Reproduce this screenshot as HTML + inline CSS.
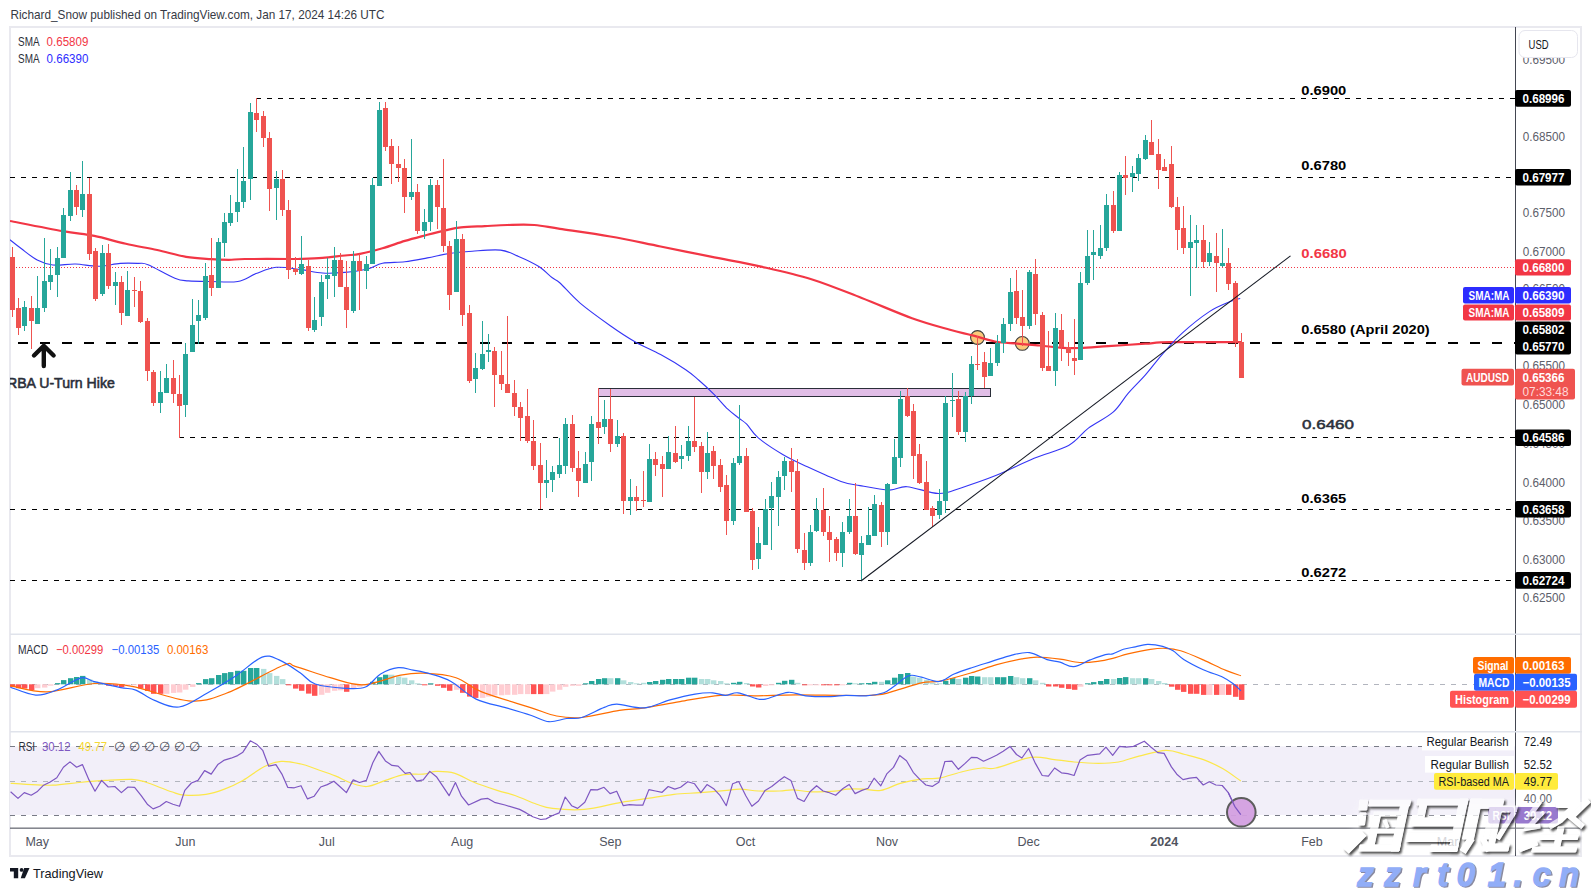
<!DOCTYPE html><html><head><meta charset="utf-8"><style>html,body{margin:0;padding:0;background:#fff;overflow:hidden}svg{display:block}text{font-family:"Liberation Sans", sans-serif}</style></head><body>
<svg width="1591" height="891" viewBox="0 0 1591 891">
<rect width="1591" height="891" fill="#ffffff"/>
<text x="10.5" y="18.8" font-size="13" fill="#363a45" font-weight="normal" text-anchor="start" textLength="374" lengthAdjust="spacingAndGlyphs" >Richard_Snow published on TradingView.com, Jan 17, 2024 14:26 UTC</text>
<rect x="10" y="27" width="1571" height="829" fill="none" stroke="#e9e9ef" stroke-width="2" shape-rendering="crispEdges"/>
<defs><clipPath id="main"><rect x="10" y="27" width="1505" height="607"/></clipPath><clipPath id="macdc"><rect x="10" y="635" width="1505" height="96"/></clipPath><clipPath id="rsic"><rect x="10" y="732" width="1505" height="96"/></clipPath></defs>
<g clip-path="url(#main)">
<line x1="256" y1="98.5" x2="1515" y2="98.5" stroke="#000" stroke-width="1" stroke-dasharray="5 6" shape-rendering="crispEdges"/>
<line x1="10" y1="177.5" x2="1515" y2="177.5" stroke="#000" stroke-width="1" stroke-dasharray="5 6" shape-rendering="crispEdges"/>
<line x1="10" y1="267.5" x2="1515" y2="267.5" stroke="#f23645" stroke-width="1" stroke-dasharray="1 2" shape-rendering="crispEdges"/>
<line x1="18" y1="342.5" x2="1515" y2="342.5" stroke="#000" stroke-width="2" stroke-dasharray="10 12" shape-rendering="crispEdges"/>
<line x1="179" y1="437.5" x2="1515" y2="437.5" stroke="#000" stroke-width="1" stroke-dasharray="5 6" shape-rendering="crispEdges"/>
<line x1="10" y1="509.5" x2="1515" y2="509.5" stroke="#000" stroke-width="1" stroke-dasharray="5 6" shape-rendering="crispEdges"/>
<line x1="10" y1="580.5" x2="1515" y2="580.5" stroke="#000" stroke-width="1" stroke-dasharray="5 6" shape-rendering="crispEdges"/>
<rect x="598.5" y="388.5" width="392" height="8" fill="#e1bee7" stroke="#2a2e39" stroke-width="1"/>
<circle cx="977.5" cy="337.5" r="6.9" fill="#fbc97a" stroke="#3d3d3d" stroke-width="1.1"/>
<circle cx="1022.3" cy="343.4" r="6.9" fill="#fbc97a" stroke="#3d3d3d" stroke-width="1.1"/>
<path d="M10.0,221.0 C18.8,222.7 48.9,228.7 62.9,231.2 C77.0,233.7 83.8,233.8 94.3,235.9 C104.8,238.0 115.3,241.5 125.8,243.8 C136.3,246.2 147.1,247.8 157.2,250.0 C167.2,252.2 177.2,255.3 186.1,256.8 C195.0,258.3 203.7,258.6 210.8,259.1 C217.9,259.6 223.1,259.8 228.8,259.8 C234.5,259.8 234.7,259.1 244.9,259.0 C255.1,258.9 280.6,259.0 289.8,259.0 C299.0,259.0 294.6,259.1 300.0,258.9 C305.4,258.7 315.0,258.4 322.5,257.8 C330.0,257.2 338.6,256.1 344.9,255.5 C351.1,254.8 353.7,255.1 360.0,253.9 C366.3,252.7 375.0,250.5 382.5,248.3 C390.0,246.1 397.4,243.2 404.9,240.9 C412.4,238.7 420.7,236.6 427.4,234.8 C434.1,233.0 439.7,231.5 445.3,230.3 C450.9,229.1 454.4,228.1 461.0,227.4 C467.6,226.7 477.2,226.5 484.9,226.1 C492.6,225.7 499.2,225.2 507.4,225.0 C515.6,224.8 525.5,224.3 534.3,225.0 C543.1,225.7 547.3,227.0 560.0,228.9 C572.7,230.8 593.5,233.6 610.3,236.5 C627.1,239.4 643.9,243.2 660.6,246.5 C677.4,249.8 694.0,253.3 710.8,256.6 C727.5,260.0 744.3,262.8 761.1,266.6 C777.9,270.4 794.6,274.0 811.4,279.2 C828.2,284.4 844.9,291.5 861.7,298.0 C878.5,304.5 897.3,312.9 912.0,318.2 C926.7,323.5 939.9,326.9 950.0,329.8 C960.1,332.7 965.0,333.4 972.5,335.4 C980.0,337.3 987.4,340.1 994.9,341.5 C1002.4,342.9 1009.9,343.0 1017.4,343.7 C1024.9,344.4 1032.3,344.8 1039.8,345.5 C1047.3,346.2 1055.6,347.4 1062.3,347.8 C1069.0,348.2 1072.4,348.3 1080.0,348.0 C1087.6,347.7 1097.2,346.9 1108.1,346.2 C1119.0,345.5 1134.9,344.4 1145.2,343.7 C1155.5,343.0 1153.9,342.4 1169.9,342.2 C1185.9,341.9 1229.2,342.2 1241.0,342.2" fill="none" stroke="#f23645" stroke-width="2.2" stroke-linejoin="round"/>
<path d="M10.0,239.8 C11.9,241.3 17.0,245.4 21.5,248.8 C26.0,252.2 32.0,257.3 37.2,260.0 C42.4,262.7 46.5,264.3 52.9,265.0 C59.3,265.7 67.9,263.8 75.4,264.0 C82.9,264.2 90.3,266.4 97.8,266.3 C105.3,266.2 113.6,263.9 120.3,263.4 C127.0,262.9 133.4,263.2 138.0,263.4 C142.6,263.6 141.8,262.2 148.0,264.7 C154.2,267.2 168.2,275.5 174.9,278.2 C181.6,280.9 182.4,280.3 188.4,280.9 C194.4,281.4 202.6,281.4 210.8,281.5 C219.0,281.6 230.2,282.8 237.8,281.5 C245.4,280.2 249.7,276.0 256.1,273.6 C262.5,271.2 268.8,268.0 276.3,267.3 C283.8,266.6 293.3,268.7 301.0,269.6 C308.7,270.6 315.2,272.5 322.5,273.0 C329.8,273.5 337.4,273.1 344.9,272.4 C352.4,271.7 361.1,270.5 367.4,269.0 C373.7,267.5 376.2,264.5 382.5,263.3 C388.8,262.1 397.4,262.7 404.9,261.8 C412.4,260.9 419.9,259.3 427.4,257.9 C434.9,256.5 442.3,254.5 449.8,253.4 C457.3,252.3 463.8,251.8 472.3,251.2 C480.8,250.6 492.9,249.2 500.6,250.1 C508.3,251.0 512.2,253.7 518.6,256.4 C525.0,259.1 533.2,262.9 538.8,266.5 C544.4,270.1 548.8,275.1 552.3,277.8 C555.8,280.6 555.4,278.8 560.0,283.0 C564.6,287.2 571.7,296.0 580.1,303.1 C588.5,310.2 601.1,319.2 610.3,325.7 C619.5,332.2 627.0,337.2 635.4,342.0 C643.8,346.8 652.2,350.0 660.6,354.6 C669.0,359.2 679.4,365.5 685.7,369.7 C692.0,373.9 693.8,375.9 698.6,380.0 C703.4,384.1 709.4,389.7 714.3,394.6 C719.2,399.5 723.7,405.3 727.8,409.2 C731.9,413.1 735.9,415.7 739.0,418.2 C742.1,420.7 743.5,420.9 746.7,424.2 C749.9,427.4 752.0,432.6 758.0,437.7 C764.0,442.8 774.5,449.6 782.7,454.5 C790.9,459.4 797.7,462.3 807.4,466.8 C817.1,471.3 832.2,478.3 841.0,481.4 C849.8,484.5 852.0,484.2 860.0,485.6 C868.0,487.1 881.4,489.9 889.2,490.1 C897.1,490.3 898.9,486.1 907.1,486.7 C915.3,487.3 929.6,493.3 938.6,493.5 C947.6,493.7 951.3,491.0 961.0,487.9 C970.7,484.8 984.8,480.0 997.0,475.1 C1009.2,470.2 1022.2,463.2 1034.1,458.3 C1046.0,453.4 1059.5,450.4 1068.6,445.4 C1077.6,440.4 1081.0,433.7 1088.4,428.1 C1095.8,422.6 1106.5,417.9 1113.1,412.1 C1119.7,406.4 1122.6,399.8 1127.9,393.6 C1133.2,387.4 1139.4,381.7 1145.2,375.1 C1151.0,368.5 1156.3,361.1 1162.5,354.1 C1168.7,347.1 1174.4,340.2 1182.2,333.1 C1190.0,326.0 1201.2,317.0 1209.4,311.6 C1217.6,306.2 1226.5,303.2 1231.6,301.0 C1236.7,298.8 1238.8,298.9 1240.2,298.5" fill="none" stroke="#3535f5" stroke-width="1.1" stroke-linejoin="round"/>
<rect x="12" y="247" width="1" height="70" fill="#ef5350"/>
<rect x="10" y="257" width="5" height="53" fill="#ef5350"/>
<rect x="18" y="298" width="1" height="37" fill="#ef5350"/>
<rect x="16" y="308" width="5" height="20" fill="#ef5350"/>
<rect x="24" y="301" width="1" height="30" fill="#26a69a"/>
<rect x="22" y="307" width="5" height="19" fill="#26a69a"/>
<rect x="31" y="296" width="1" height="53" fill="#ef5350"/>
<rect x="29" y="308" width="5" height="13" fill="#ef5350"/>
<rect x="37" y="276" width="1" height="48" fill="#26a69a"/>
<rect x="35" y="308" width="5" height="16" fill="#26a69a"/>
<rect x="44" y="238" width="1" height="74" fill="#26a69a"/>
<rect x="42" y="281" width="5" height="27" fill="#26a69a"/>
<rect x="50" y="249" width="1" height="41" fill="#26a69a"/>
<rect x="48" y="275" width="5" height="7" fill="#26a69a"/>
<rect x="57" y="247" width="1" height="50" fill="#26a69a"/>
<rect x="55" y="258" width="5" height="17" fill="#26a69a"/>
<rect x="63" y="208" width="1" height="50" fill="#26a69a"/>
<rect x="61" y="215" width="5" height="43" fill="#26a69a"/>
<rect x="70" y="172" width="1" height="49" fill="#26a69a"/>
<rect x="68" y="190" width="5" height="26" fill="#26a69a"/>
<rect x="76" y="185" width="1" height="30" fill="#ef5350"/>
<rect x="74" y="190" width="5" height="17" fill="#ef5350"/>
<rect x="82" y="161" width="1" height="56" fill="#26a69a"/>
<rect x="80" y="194" width="5" height="16" fill="#26a69a"/>
<rect x="89" y="178" width="1" height="82" fill="#ef5350"/>
<rect x="87" y="194" width="5" height="60" fill="#ef5350"/>
<rect x="95" y="248" width="1" height="53" fill="#ef5350"/>
<rect x="93" y="251" width="5" height="48" fill="#ef5350"/>
<rect x="102" y="245" width="1" height="51" fill="#26a69a"/>
<rect x="100" y="253" width="5" height="41" fill="#26a69a"/>
<rect x="108" y="244" width="1" height="45" fill="#ef5350"/>
<rect x="106" y="253" width="5" height="33" fill="#ef5350"/>
<rect x="115" y="272" width="1" height="33" fill="#26a69a"/>
<rect x="113" y="282" width="5" height="4" fill="#26a69a"/>
<rect x="121" y="276" width="1" height="49" fill="#ef5350"/>
<rect x="119" y="282" width="5" height="31" fill="#ef5350"/>
<rect x="127" y="271" width="1" height="45" fill="#26a69a"/>
<rect x="125" y="290" width="5" height="26" fill="#26a69a"/>
<rect x="134" y="277" width="1" height="30" fill="#ef5350"/>
<rect x="132" y="290" width="5" height="1" fill="#ef5350"/>
<rect x="140" y="281" width="1" height="42" fill="#ef5350"/>
<rect x="138" y="291" width="5" height="31" fill="#ef5350"/>
<rect x="147" y="318" width="1" height="63" fill="#ef5350"/>
<rect x="145" y="321" width="5" height="50" fill="#ef5350"/>
<rect x="153" y="370" width="1" height="36" fill="#ef5350"/>
<rect x="151" y="372" width="5" height="31" fill="#ef5350"/>
<rect x="160" y="371" width="1" height="42" fill="#26a69a"/>
<rect x="158" y="392" width="5" height="11" fill="#26a69a"/>
<rect x="166" y="364" width="1" height="29" fill="#26a69a"/>
<rect x="164" y="378" width="5" height="15" fill="#26a69a"/>
<rect x="173" y="360" width="1" height="43" fill="#ef5350"/>
<rect x="171" y="378" width="5" height="16" fill="#ef5350"/>
<rect x="179" y="375" width="1" height="63" fill="#ef5350"/>
<rect x="177" y="394" width="5" height="12" fill="#ef5350"/>
<rect x="185" y="343" width="1" height="74" fill="#26a69a"/>
<rect x="183" y="354" width="5" height="51" fill="#26a69a"/>
<rect x="192" y="299" width="1" height="53" fill="#26a69a"/>
<rect x="190" y="325" width="5" height="27" fill="#26a69a"/>
<rect x="198" y="300" width="1" height="44" fill="#26a69a"/>
<rect x="196" y="315" width="5" height="6" fill="#26a69a"/>
<rect x="205" y="263" width="1" height="57" fill="#26a69a"/>
<rect x="203" y="276" width="5" height="42" fill="#26a69a"/>
<rect x="211" y="238" width="1" height="58" fill="#ef5350"/>
<rect x="209" y="275" width="5" height="13" fill="#ef5350"/>
<rect x="218" y="238" width="1" height="50" fill="#26a69a"/>
<rect x="216" y="242" width="5" height="46" fill="#26a69a"/>
<rect x="224" y="213" width="1" height="44" fill="#26a69a"/>
<rect x="222" y="222" width="5" height="21" fill="#26a69a"/>
<rect x="230" y="195" width="1" height="31" fill="#26a69a"/>
<rect x="228" y="213" width="5" height="10" fill="#26a69a"/>
<rect x="237" y="169" width="1" height="53" fill="#26a69a"/>
<rect x="235" y="202" width="5" height="10" fill="#26a69a"/>
<rect x="243" y="147" width="1" height="61" fill="#26a69a"/>
<rect x="241" y="181" width="5" height="21" fill="#26a69a"/>
<rect x="250" y="103" width="1" height="97" fill="#26a69a"/>
<rect x="248" y="112" width="5" height="67" fill="#26a69a"/>
<rect x="256" y="98" width="1" height="34" fill="#ef5350"/>
<rect x="254" y="113" width="5" height="7" fill="#ef5350"/>
<rect x="263" y="111" width="1" height="36" fill="#ef5350"/>
<rect x="261" y="116" width="5" height="22" fill="#ef5350"/>
<rect x="269" y="132" width="1" height="79" fill="#ef5350"/>
<rect x="267" y="138" width="5" height="51" fill="#ef5350"/>
<rect x="276" y="171" width="1" height="49" fill="#26a69a"/>
<rect x="274" y="179" width="5" height="9" fill="#26a69a"/>
<rect x="282" y="170" width="1" height="46" fill="#ef5350"/>
<rect x="280" y="179" width="5" height="31" fill="#ef5350"/>
<rect x="288" y="200" width="1" height="79" fill="#ef5350"/>
<rect x="286" y="210" width="5" height="60" fill="#ef5350"/>
<rect x="295" y="257" width="1" height="18" fill="#ef5350"/>
<rect x="293" y="269" width="5" height="3" fill="#ef5350"/>
<rect x="301" y="236" width="1" height="39" fill="#26a69a"/>
<rect x="299" y="264" width="5" height="10" fill="#26a69a"/>
<rect x="308" y="260" width="1" height="71" fill="#ef5350"/>
<rect x="306" y="266" width="5" height="62" fill="#ef5350"/>
<rect x="314" y="297" width="1" height="35" fill="#26a69a"/>
<rect x="312" y="320" width="5" height="10" fill="#26a69a"/>
<rect x="321" y="275" width="1" height="51" fill="#26a69a"/>
<rect x="319" y="282" width="5" height="35" fill="#26a69a"/>
<rect x="327" y="258" width="1" height="41" fill="#26a69a"/>
<rect x="325" y="275" width="5" height="4" fill="#26a69a"/>
<rect x="334" y="247" width="1" height="50" fill="#26a69a"/>
<rect x="332" y="260" width="5" height="16" fill="#26a69a"/>
<rect x="340" y="253" width="1" height="34" fill="#ef5350"/>
<rect x="338" y="260" width="5" height="27" fill="#ef5350"/>
<rect x="346" y="261" width="1" height="67" fill="#ef5350"/>
<rect x="344" y="287" width="5" height="23" fill="#ef5350"/>
<rect x="353" y="251" width="1" height="62" fill="#26a69a"/>
<rect x="351" y="261" width="5" height="50" fill="#26a69a"/>
<rect x="359" y="254" width="1" height="56" fill="#ef5350"/>
<rect x="357" y="261" width="5" height="10" fill="#ef5350"/>
<rect x="366" y="256" width="1" height="33" fill="#26a69a"/>
<rect x="364" y="264" width="5" height="7" fill="#26a69a"/>
<rect x="372" y="178" width="1" height="86" fill="#26a69a"/>
<rect x="370" y="185" width="5" height="79" fill="#26a69a"/>
<rect x="379" y="102" width="1" height="84" fill="#26a69a"/>
<rect x="377" y="110" width="5" height="76" fill="#26a69a"/>
<rect x="385" y="102" width="1" height="49" fill="#ef5350"/>
<rect x="383" y="108" width="5" height="39" fill="#ef5350"/>
<rect x="391" y="139" width="1" height="45" fill="#ef5350"/>
<rect x="389" y="146" width="5" height="18" fill="#ef5350"/>
<rect x="398" y="146" width="1" height="36" fill="#ef5350"/>
<rect x="396" y="164" width="5" height="4" fill="#ef5350"/>
<rect x="404" y="159" width="1" height="54" fill="#ef5350"/>
<rect x="402" y="168" width="5" height="29" fill="#ef5350"/>
<rect x="411" y="139" width="1" height="61" fill="#26a69a"/>
<rect x="409" y="192" width="5" height="5" fill="#26a69a"/>
<rect x="417" y="184" width="1" height="50" fill="#ef5350"/>
<rect x="415" y="192" width="5" height="39" fill="#ef5350"/>
<rect x="424" y="209" width="1" height="30" fill="#26a69a"/>
<rect x="422" y="222" width="5" height="9" fill="#26a69a"/>
<rect x="430" y="179" width="1" height="52" fill="#26a69a"/>
<rect x="428" y="185" width="5" height="37" fill="#26a69a"/>
<rect x="437" y="180" width="1" height="49" fill="#ef5350"/>
<rect x="435" y="185" width="5" height="22" fill="#ef5350"/>
<rect x="443" y="159" width="1" height="93" fill="#ef5350"/>
<rect x="441" y="208" width="5" height="38" fill="#ef5350"/>
<rect x="449" y="241" width="1" height="69" fill="#ef5350"/>
<rect x="447" y="246" width="5" height="49" fill="#ef5350"/>
<rect x="456" y="221" width="1" height="71" fill="#26a69a"/>
<rect x="454" y="239" width="5" height="53" fill="#26a69a"/>
<rect x="462" y="234" width="1" height="92" fill="#ef5350"/>
<rect x="460" y="239" width="5" height="76" fill="#ef5350"/>
<rect x="469" y="305" width="1" height="78" fill="#ef5350"/>
<rect x="467" y="313" width="5" height="68" fill="#ef5350"/>
<rect x="475" y="353" width="1" height="40" fill="#26a69a"/>
<rect x="473" y="368" width="5" height="11" fill="#26a69a"/>
<rect x="482" y="321" width="1" height="49" fill="#26a69a"/>
<rect x="480" y="354" width="5" height="15" fill="#26a69a"/>
<rect x="488" y="334" width="1" height="28" fill="#26a69a"/>
<rect x="486" y="350" width="5" height="2" fill="#26a69a"/>
<rect x="494" y="347" width="1" height="60" fill="#ef5350"/>
<rect x="492" y="351" width="5" height="24" fill="#ef5350"/>
<rect x="501" y="351" width="1" height="39" fill="#ef5350"/>
<rect x="499" y="375" width="5" height="9" fill="#ef5350"/>
<rect x="507" y="316" width="1" height="77" fill="#ef5350"/>
<rect x="505" y="384" width="5" height="9" fill="#ef5350"/>
<rect x="514" y="380" width="1" height="36" fill="#ef5350"/>
<rect x="512" y="393" width="5" height="14" fill="#ef5350"/>
<rect x="520" y="402" width="1" height="39" fill="#ef5350"/>
<rect x="518" y="407" width="5" height="11" fill="#ef5350"/>
<rect x="527" y="389" width="1" height="54" fill="#ef5350"/>
<rect x="525" y="416" width="5" height="25" fill="#ef5350"/>
<rect x="533" y="420" width="1" height="50" fill="#ef5350"/>
<rect x="531" y="441" width="5" height="25" fill="#ef5350"/>
<rect x="540" y="443" width="1" height="66" fill="#ef5350"/>
<rect x="538" y="465" width="5" height="18" fill="#ef5350"/>
<rect x="546" y="460" width="1" height="38" fill="#26a69a"/>
<rect x="544" y="480" width="5" height="3" fill="#26a69a"/>
<rect x="552" y="466" width="1" height="26" fill="#26a69a"/>
<rect x="550" y="472" width="5" height="8" fill="#26a69a"/>
<rect x="559" y="438" width="1" height="40" fill="#26a69a"/>
<rect x="557" y="465" width="5" height="9" fill="#26a69a"/>
<rect x="565" y="418" width="1" height="56" fill="#26a69a"/>
<rect x="563" y="424" width="5" height="42" fill="#26a69a"/>
<rect x="572" y="415" width="1" height="57" fill="#ef5350"/>
<rect x="570" y="424" width="5" height="44" fill="#ef5350"/>
<rect x="578" y="451" width="1" height="46" fill="#ef5350"/>
<rect x="576" y="468" width="5" height="13" fill="#ef5350"/>
<rect x="585" y="452" width="1" height="31" fill="#26a69a"/>
<rect x="583" y="464" width="5" height="19" fill="#26a69a"/>
<rect x="591" y="416" width="1" height="65" fill="#26a69a"/>
<rect x="589" y="424" width="5" height="38" fill="#26a69a"/>
<rect x="598" y="388" width="1" height="56" fill="#ef5350"/>
<rect x="596" y="422" width="5" height="6" fill="#ef5350"/>
<rect x="604" y="400" width="1" height="34" fill="#26a69a"/>
<rect x="602" y="419" width="5" height="8" fill="#26a69a"/>
<rect x="610" y="389" width="1" height="63" fill="#ef5350"/>
<rect x="608" y="419" width="5" height="25" fill="#ef5350"/>
<rect x="617" y="420" width="1" height="27" fill="#26a69a"/>
<rect x="615" y="436" width="5" height="8" fill="#26a69a"/>
<rect x="623" y="433" width="1" height="81" fill="#ef5350"/>
<rect x="621" y="436" width="5" height="65" fill="#ef5350"/>
<rect x="630" y="479" width="1" height="36" fill="#26a69a"/>
<rect x="628" y="497" width="5" height="4" fill="#26a69a"/>
<rect x="636" y="486" width="1" height="25" fill="#ef5350"/>
<rect x="634" y="497" width="5" height="4" fill="#ef5350"/>
<rect x="643" y="471" width="1" height="36" fill="#ef5350"/>
<rect x="641" y="500" width="5" height="1" fill="#ef5350"/>
<rect x="649" y="444" width="1" height="58" fill="#26a69a"/>
<rect x="647" y="459" width="5" height="43" fill="#26a69a"/>
<rect x="655" y="452" width="1" height="24" fill="#ef5350"/>
<rect x="653" y="459" width="5" height="6" fill="#ef5350"/>
<rect x="662" y="456" width="1" height="41" fill="#ef5350"/>
<rect x="660" y="464" width="5" height="5" fill="#ef5350"/>
<rect x="668" y="436" width="1" height="33" fill="#26a69a"/>
<rect x="666" y="452" width="5" height="17" fill="#26a69a"/>
<rect x="675" y="426" width="1" height="37" fill="#ef5350"/>
<rect x="673" y="453" width="5" height="9" fill="#ef5350"/>
<rect x="681" y="445" width="1" height="24" fill="#26a69a"/>
<rect x="679" y="456" width="5" height="3" fill="#26a69a"/>
<rect x="688" y="426" width="1" height="35" fill="#26a69a"/>
<rect x="686" y="441" width="5" height="15" fill="#26a69a"/>
<rect x="694" y="397" width="1" height="55" fill="#ef5350"/>
<rect x="692" y="441" width="5" height="6" fill="#ef5350"/>
<rect x="701" y="442" width="1" height="51" fill="#ef5350"/>
<rect x="699" y="446" width="5" height="26" fill="#ef5350"/>
<rect x="707" y="432" width="1" height="47" fill="#26a69a"/>
<rect x="705" y="453" width="5" height="19" fill="#26a69a"/>
<rect x="713" y="446" width="1" height="33" fill="#ef5350"/>
<rect x="711" y="451" width="5" height="15" fill="#ef5350"/>
<rect x="720" y="459" width="1" height="33" fill="#ef5350"/>
<rect x="718" y="465" width="5" height="22" fill="#ef5350"/>
<rect x="726" y="475" width="1" height="60" fill="#ef5350"/>
<rect x="724" y="485" width="5" height="36" fill="#ef5350"/>
<rect x="733" y="458" width="1" height="67" fill="#26a69a"/>
<rect x="731" y="463" width="5" height="58" fill="#26a69a"/>
<rect x="739" y="405" width="1" height="60" fill="#26a69a"/>
<rect x="737" y="456" width="5" height="7" fill="#26a69a"/>
<rect x="746" y="448" width="1" height="64" fill="#ef5350"/>
<rect x="744" y="456" width="5" height="56" fill="#ef5350"/>
<rect x="752" y="508" width="1" height="62" fill="#ef5350"/>
<rect x="750" y="511" width="5" height="49" fill="#ef5350"/>
<rect x="758" y="527" width="1" height="42" fill="#26a69a"/>
<rect x="756" y="543" width="5" height="16" fill="#26a69a"/>
<rect x="765" y="499" width="1" height="46" fill="#26a69a"/>
<rect x="763" y="509" width="5" height="36" fill="#26a69a"/>
<rect x="771" y="482" width="1" height="68" fill="#26a69a"/>
<rect x="769" y="496" width="5" height="12" fill="#26a69a"/>
<rect x="778" y="471" width="1" height="55" fill="#26a69a"/>
<rect x="776" y="477" width="5" height="20" fill="#26a69a"/>
<rect x="784" y="457" width="1" height="33" fill="#26a69a"/>
<rect x="782" y="461" width="5" height="15" fill="#26a69a"/>
<rect x="791" y="448" width="1" height="44" fill="#ef5350"/>
<rect x="789" y="461" width="5" height="11" fill="#ef5350"/>
<rect x="797" y="459" width="1" height="94" fill="#ef5350"/>
<rect x="795" y="471" width="5" height="78" fill="#ef5350"/>
<rect x="804" y="533" width="1" height="37" fill="#ef5350"/>
<rect x="802" y="550" width="5" height="13" fill="#ef5350"/>
<rect x="810" y="525" width="1" height="41" fill="#26a69a"/>
<rect x="808" y="532" width="5" height="31" fill="#26a69a"/>
<rect x="816" y="498" width="1" height="34" fill="#26a69a"/>
<rect x="814" y="510" width="5" height="21" fill="#26a69a"/>
<rect x="823" y="488" width="1" height="48" fill="#ef5350"/>
<rect x="821" y="510" width="5" height="22" fill="#ef5350"/>
<rect x="829" y="516" width="1" height="46" fill="#ef5350"/>
<rect x="827" y="532" width="5" height="8" fill="#ef5350"/>
<rect x="836" y="537" width="1" height="24" fill="#ef5350"/>
<rect x="834" y="539" width="5" height="14" fill="#ef5350"/>
<rect x="842" y="522" width="1" height="45" fill="#26a69a"/>
<rect x="840" y="532" width="5" height="21" fill="#26a69a"/>
<rect x="849" y="499" width="1" height="35" fill="#26a69a"/>
<rect x="847" y="516" width="5" height="16" fill="#26a69a"/>
<rect x="855" y="483" width="1" height="72" fill="#ef5350"/>
<rect x="853" y="516" width="5" height="38" fill="#ef5350"/>
<rect x="861" y="536" width="1" height="45" fill="#26a69a"/>
<rect x="859" y="543" width="5" height="12" fill="#26a69a"/>
<rect x="868" y="507" width="1" height="38" fill="#26a69a"/>
<rect x="866" y="535" width="5" height="10" fill="#26a69a"/>
<rect x="874" y="495" width="1" height="41" fill="#26a69a"/>
<rect x="872" y="504" width="5" height="32" fill="#26a69a"/>
<rect x="881" y="502" width="1" height="45" fill="#ef5350"/>
<rect x="879" y="505" width="5" height="27" fill="#ef5350"/>
<rect x="887" y="483" width="1" height="62" fill="#26a69a"/>
<rect x="885" y="484" width="5" height="48" fill="#26a69a"/>
<rect x="894" y="439" width="1" height="45" fill="#26a69a"/>
<rect x="892" y="457" width="5" height="27" fill="#26a69a"/>
<rect x="900" y="391" width="1" height="76" fill="#26a69a"/>
<rect x="898" y="399" width="5" height="59" fill="#26a69a"/>
<rect x="907" y="388" width="1" height="29" fill="#ef5350"/>
<rect x="905" y="396" width="5" height="20" fill="#ef5350"/>
<rect x="913" y="404" width="1" height="75" fill="#ef5350"/>
<rect x="911" y="411" width="5" height="45" fill="#ef5350"/>
<rect x="919" y="444" width="1" height="40" fill="#ef5350"/>
<rect x="917" y="454" width="5" height="29" fill="#ef5350"/>
<rect x="926" y="461" width="1" height="49" fill="#ef5350"/>
<rect x="924" y="482" width="5" height="28" fill="#ef5350"/>
<rect x="932" y="506" width="1" height="21" fill="#ef5350"/>
<rect x="930" y="508" width="5" height="8" fill="#ef5350"/>
<rect x="939" y="489" width="1" height="30" fill="#26a69a"/>
<rect x="937" y="501" width="5" height="14" fill="#26a69a"/>
<rect x="945" y="396" width="1" height="117" fill="#26a69a"/>
<rect x="943" y="403" width="5" height="98" fill="#26a69a"/>
<rect x="952" y="373" width="1" height="44" fill="#26a69a"/>
<rect x="950" y="400" width="5" height="1" fill="#26a69a"/>
<rect x="958" y="391" width="1" height="44" fill="#ef5350"/>
<rect x="956" y="399" width="5" height="33" fill="#ef5350"/>
<rect x="965" y="392" width="1" height="50" fill="#26a69a"/>
<rect x="963" y="396" width="5" height="36" fill="#26a69a"/>
<rect x="971" y="356" width="1" height="48" fill="#26a69a"/>
<rect x="969" y="364" width="5" height="32" fill="#26a69a"/>
<rect x="977" y="336" width="1" height="34" fill="#ef5350"/>
<rect x="975" y="364" width="5" height="1" fill="#ef5350"/>
<rect x="984" y="352" width="1" height="36" fill="#ef5350"/>
<rect x="982" y="362" width="5" height="15" fill="#ef5350"/>
<rect x="990" y="348" width="1" height="28" fill="#26a69a"/>
<rect x="988" y="363" width="5" height="13" fill="#26a69a"/>
<rect x="997" y="335" width="1" height="31" fill="#26a69a"/>
<rect x="995" y="343" width="5" height="20" fill="#26a69a"/>
<rect x="1003" y="318" width="1" height="35" fill="#26a69a"/>
<rect x="1001" y="324" width="5" height="19" fill="#26a69a"/>
<rect x="1010" y="278" width="1" height="53" fill="#26a69a"/>
<rect x="1008" y="292" width="5" height="32" fill="#26a69a"/>
<rect x="1016" y="270" width="1" height="54" fill="#ef5350"/>
<rect x="1014" y="291" width="5" height="27" fill="#ef5350"/>
<rect x="1022" y="290" width="1" height="56" fill="#ef5350"/>
<rect x="1020" y="317" width="5" height="9" fill="#ef5350"/>
<rect x="1029" y="270" width="1" height="59" fill="#26a69a"/>
<rect x="1027" y="272" width="5" height="54" fill="#26a69a"/>
<rect x="1035" y="259" width="1" height="66" fill="#ef5350"/>
<rect x="1033" y="274" width="5" height="40" fill="#ef5350"/>
<rect x="1042" y="312" width="1" height="59" fill="#ef5350"/>
<rect x="1040" y="315" width="5" height="53" fill="#ef5350"/>
<rect x="1048" y="331" width="1" height="40" fill="#ef5350"/>
<rect x="1046" y="366" width="5" height="5" fill="#ef5350"/>
<rect x="1055" y="313" width="1" height="73" fill="#26a69a"/>
<rect x="1053" y="328" width="5" height="43" fill="#26a69a"/>
<rect x="1061" y="314" width="1" height="47" fill="#ef5350"/>
<rect x="1059" y="330" width="5" height="17" fill="#ef5350"/>
<rect x="1068" y="342" width="1" height="24" fill="#ef5350"/>
<rect x="1066" y="347" width="5" height="6" fill="#ef5350"/>
<rect x="1074" y="319" width="1" height="56" fill="#ef5350"/>
<rect x="1072" y="358" width="5" height="3" fill="#ef5350"/>
<rect x="1080" y="272" width="1" height="88" fill="#26a69a"/>
<rect x="1078" y="283" width="5" height="77" fill="#26a69a"/>
<rect x="1087" y="230" width="1" height="55" fill="#26a69a"/>
<rect x="1085" y="256" width="5" height="27" fill="#26a69a"/>
<rect x="1093" y="230" width="1" height="50" fill="#26a69a"/>
<rect x="1091" y="252" width="5" height="3" fill="#26a69a"/>
<rect x="1100" y="225" width="1" height="34" fill="#26a69a"/>
<rect x="1098" y="248" width="5" height="8" fill="#26a69a"/>
<rect x="1106" y="194" width="1" height="57" fill="#26a69a"/>
<rect x="1104" y="205" width="5" height="43" fill="#26a69a"/>
<rect x="1113" y="191" width="1" height="42" fill="#ef5350"/>
<rect x="1111" y="205" width="5" height="26" fill="#ef5350"/>
<rect x="1119" y="172" width="1" height="59" fill="#26a69a"/>
<rect x="1117" y="175" width="5" height="56" fill="#26a69a"/>
<rect x="1125" y="156" width="1" height="39" fill="#ef5350"/>
<rect x="1123" y="175" width="5" height="3" fill="#ef5350"/>
<rect x="1132" y="166" width="1" height="26" fill="#26a69a"/>
<rect x="1130" y="173" width="5" height="4" fill="#26a69a"/>
<rect x="1138" y="154" width="1" height="27" fill="#26a69a"/>
<rect x="1136" y="158" width="5" height="16" fill="#26a69a"/>
<rect x="1145" y="135" width="1" height="25" fill="#26a69a"/>
<rect x="1143" y="140" width="5" height="19" fill="#26a69a"/>
<rect x="1151" y="120" width="1" height="35" fill="#ef5350"/>
<rect x="1149" y="142" width="5" height="13" fill="#ef5350"/>
<rect x="1158" y="139" width="1" height="50" fill="#ef5350"/>
<rect x="1156" y="154" width="5" height="16" fill="#ef5350"/>
<rect x="1164" y="159" width="1" height="12" fill="#ef5350"/>
<rect x="1162" y="167" width="5" height="4" fill="#ef5350"/>
<rect x="1171" y="146" width="1" height="62" fill="#ef5350"/>
<rect x="1169" y="164" width="5" height="43" fill="#ef5350"/>
<rect x="1177" y="197" width="1" height="53" fill="#ef5350"/>
<rect x="1175" y="207" width="5" height="23" fill="#ef5350"/>
<rect x="1183" y="206" width="1" height="48" fill="#ef5350"/>
<rect x="1181" y="228" width="5" height="20" fill="#ef5350"/>
<rect x="1190" y="215" width="1" height="81" fill="#26a69a"/>
<rect x="1188" y="242" width="5" height="6" fill="#26a69a"/>
<rect x="1196" y="225" width="1" height="43" fill="#26a69a"/>
<rect x="1194" y="240" width="5" height="3" fill="#26a69a"/>
<rect x="1203" y="225" width="1" height="43" fill="#ef5350"/>
<rect x="1201" y="240" width="5" height="22" fill="#ef5350"/>
<rect x="1209" y="242" width="1" height="24" fill="#26a69a"/>
<rect x="1207" y="253" width="5" height="9" fill="#26a69a"/>
<rect x="1216" y="233" width="1" height="59" fill="#ef5350"/>
<rect x="1214" y="256" width="5" height="7" fill="#ef5350"/>
<rect x="1222" y="229" width="1" height="38" fill="#26a69a"/>
<rect x="1220" y="263" width="5" height="3" fill="#26a69a"/>
<rect x="1228" y="248" width="1" height="42" fill="#ef5350"/>
<rect x="1226" y="263" width="5" height="21" fill="#ef5350"/>
<rect x="1235" y="281" width="1" height="66" fill="#ef5350"/>
<rect x="1233" y="283" width="5" height="59" fill="#ef5350"/>
<rect x="1241" y="333" width="1" height="45" fill="#ef5350"/>
<rect x="1239" y="342" width="5" height="36" fill="#ef5350"/>
</g>
<line x1="861" y1="581" x2="1290.5" y2="255.8" stroke="#131722" stroke-width="1.05"/>
<path d="M43.8 366 V347 M34 355.5 L43.8 345.8 L53.6 355.5" fill="none" stroke="#111" stroke-width="4.4" stroke-linecap="round" stroke-linejoin="miter"/>
<svg x="10" y="360" width="200" height="40" overflow="hidden">
<text x="-3" y="27.9" font-size="14" fill="#2a2e39" font-weight="normal" text-anchor="start" textLength="107.8" lengthAdjust="spacingAndGlyphs" stroke="#2a2e39" stroke-width="0.55">RBA U-Turn Hike</text>
</svg>
<text x="1301.3" y="94.6" font-size="13" fill="#000" font-weight="bold" text-anchor="start" textLength="45" lengthAdjust="spacingAndGlyphs" >0.6900</text>
<text x="1301.3" y="170" font-size="13" fill="#000" font-weight="bold" text-anchor="start" textLength="45" lengthAdjust="spacingAndGlyphs" >0.6780</text>
<text x="1301.3" y="258.4" font-size="13" fill="#f23645" font-weight="bold" text-anchor="start" textLength="45.4" lengthAdjust="spacingAndGlyphs" >0.6680</text>
<text x="1301.3" y="333.8" font-size="13" fill="#000" font-weight="bold" text-anchor="start" textLength="128.4" lengthAdjust="spacingAndGlyphs" >0.6580 (April 2020)</text>
<text x="1302" y="428.5" font-size="13.5" fill="#2a2e39" font-weight="normal" text-anchor="start" textLength="52" lengthAdjust="spacingAndGlyphs" stroke="#2a2e39" stroke-width="0.5">0.6460</text>
<text x="1301.3" y="502.6" font-size="13" fill="#000" font-weight="bold" text-anchor="start" textLength="45" lengthAdjust="spacingAndGlyphs" >0.6365</text>
<text x="1301.3" y="576.7" font-size="13" fill="#000" font-weight="bold" text-anchor="start" textLength="45" lengthAdjust="spacingAndGlyphs" >0.6272</text>
<text x="18.1" y="45.8" font-size="12.5" fill="#2a2e39" font-weight="normal" text-anchor="start" textLength="21.5" lengthAdjust="spacingAndGlyphs" >SMA</text>
<text x="46.6" y="45.8" font-size="12.5" fill="#f23645" font-weight="normal" text-anchor="start" textLength="41.7" lengthAdjust="spacingAndGlyphs" >0.65809</text>
<text x="18.1" y="62.8" font-size="12.5" fill="#2a2e39" font-weight="normal" text-anchor="start" textLength="21.5" lengthAdjust="spacingAndGlyphs" >SMA</text>
<text x="46.6" y="62.8" font-size="12.5" fill="#2d2dff" font-weight="normal" text-anchor="start" textLength="41.7" lengthAdjust="spacingAndGlyphs" >0.66390</text>
<line x1="1515.5" y1="27" x2="1515.5" y2="856" stroke="#434651" stroke-width="1" shape-rendering="crispEdges"/>
<text x="1522.7" y="63.9" font-size="12.5" fill="#5d606b" font-weight="normal" text-anchor="start" textLength="42.3" lengthAdjust="spacingAndGlyphs" >0.69500</text>
<text x="1522.7" y="140.9" font-size="12.5" fill="#5d606b" font-weight="normal" text-anchor="start" textLength="42.3" lengthAdjust="spacingAndGlyphs" >0.68500</text>
<text x="1522.7" y="217.20000000000002" font-size="12.5" fill="#5d606b" font-weight="normal" text-anchor="start" textLength="42.3" lengthAdjust="spacingAndGlyphs" >0.67500</text>
<text x="1522.7" y="255.8" font-size="12.5" fill="#5d606b" font-weight="normal" text-anchor="start" textLength="42.3" lengthAdjust="spacingAndGlyphs" >0.67000</text>
<text x="1522.7" y="292.9" font-size="12.5" fill="#5d606b" font-weight="normal" text-anchor="start" textLength="42.3" lengthAdjust="spacingAndGlyphs" >0.66500</text>
<text x="1522.7" y="370.2" font-size="12.5" fill="#5d606b" font-weight="normal" text-anchor="start" textLength="42.3" lengthAdjust="spacingAndGlyphs" >0.65500</text>
<text x="1522.7" y="409.4" font-size="12.5" fill="#5d606b" font-weight="normal" text-anchor="start" textLength="42.3" lengthAdjust="spacingAndGlyphs" >0.65000</text>
<text x="1522.7" y="448.0" font-size="12.5" fill="#5d606b" font-weight="normal" text-anchor="start" textLength="42.3" lengthAdjust="spacingAndGlyphs" >0.64500</text>
<text x="1522.7" y="487.29999999999995" font-size="12.5" fill="#5d606b" font-weight="normal" text-anchor="start" textLength="42.3" lengthAdjust="spacingAndGlyphs" >0.64000</text>
<text x="1522.7" y="524.6" font-size="12.5" fill="#5d606b" font-weight="normal" text-anchor="start" textLength="42.3" lengthAdjust="spacingAndGlyphs" >0.63500</text>
<text x="1522.7" y="563.8" font-size="12.5" fill="#5d606b" font-weight="normal" text-anchor="start" textLength="42.3" lengthAdjust="spacingAndGlyphs" >0.63000</text>
<text x="1522.7" y="601.6" font-size="12.5" fill="#5d606b" font-weight="normal" text-anchor="start" textLength="42.3" lengthAdjust="spacingAndGlyphs" >0.62500</text>
<rect x="1519" y="30.5" width="58.5" height="27" rx="6" fill="#fff" stroke="#e6e6ee" stroke-width="1"/>
<text x="1528.6" y="48.9" font-size="12.5" fill="#131722" font-weight="normal" text-anchor="start" textLength="20" lengthAdjust="spacingAndGlyphs" >USD</text>
<rect x="1515" y="90.10000000000001" width="56" height="16.6" rx="2" fill="#000"/>
<text x="1522.5" y="102.9" font-size="12.5" fill="#fff" font-weight="bold" text-anchor="start" textLength="42" lengthAdjust="spacingAndGlyphs" >0.68996</text>
<rect x="1515" y="169.0" width="56" height="16.6" rx="2" fill="#000"/>
<text x="1522.5" y="181.8" font-size="12.5" fill="#fff" font-weight="bold" text-anchor="start" textLength="42" lengthAdjust="spacingAndGlyphs" >0.67977</text>
<rect x="1515" y="429.5" width="56" height="16.6" rx="2" fill="#000"/>
<text x="1522.5" y="442.3" font-size="12.5" fill="#fff" font-weight="bold" text-anchor="start" textLength="42" lengthAdjust="spacingAndGlyphs" >0.64586</text>
<rect x="1515" y="501.0" width="56" height="16.6" rx="2" fill="#000"/>
<text x="1522.5" y="513.8" font-size="12.5" fill="#fff" font-weight="bold" text-anchor="start" textLength="42" lengthAdjust="spacingAndGlyphs" >0.63658</text>
<rect x="1515" y="572.1" width="56" height="16.6" rx="2" fill="#000"/>
<text x="1522.5" y="584.9" font-size="12.5" fill="#fff" font-weight="bold" text-anchor="start" textLength="42" lengthAdjust="spacingAndGlyphs" >0.62724</text>
<rect x="1515" y="259.3" width="56" height="16.1" rx="2" fill="#f23645"/>
<text x="1522.5" y="271.85" font-size="12.5" fill="#fff" font-weight="bold" text-anchor="start" textLength="42" lengthAdjust="spacingAndGlyphs" >0.66800</text>
<rect x="1463" y="287" width="51" height="16.5" rx="2" fill="#2d2dff"/>
<text x="1468.5" y="299.75" font-size="12.5" fill="#fff" font-weight="bold" text-anchor="start" textLength="41" lengthAdjust="spacingAndGlyphs" >SMA:MA</text>
<rect x="1515" y="287" width="56" height="16.5" rx="2" fill="#2d2dff"/>
<text x="1522.5" y="299.75" font-size="12.5" fill="#fff" font-weight="bold" text-anchor="start" textLength="42" lengthAdjust="spacingAndGlyphs" >0.66390</text>
<rect x="1463" y="304.6" width="51" height="16" rx="2" fill="#f23645"/>
<text x="1468.5" y="317.1" font-size="12.5" fill="#fff" font-weight="bold" text-anchor="start" textLength="41" lengthAdjust="spacingAndGlyphs" >SMA:MA</text>
<rect x="1515" y="304.6" width="56" height="16" rx="2" fill="#f23645"/>
<text x="1522.5" y="317.1" font-size="12.5" fill="#fff" font-weight="bold" text-anchor="start" textLength="42" lengthAdjust="spacingAndGlyphs" >0.65809</text>
<rect x="1515" y="321.4" width="56" height="33.2" rx="2" fill="#000"/>
<text x="1522.5" y="334" font-size="12.5" fill="#fff" font-weight="bold" text-anchor="start" textLength="42" lengthAdjust="spacingAndGlyphs" >0.65802</text>
<text x="1522.5" y="350.6" font-size="12.5" fill="#fff" font-weight="bold" text-anchor="start" textLength="42" lengthAdjust="spacingAndGlyphs" >0.65770</text>
<rect x="1461.5" y="368.8" width="52.5" height="16.8" rx="2" fill="#ef5350"/>
<text x="1466" y="381.7" font-size="12.5" fill="#fff" font-weight="bold" text-anchor="start" textLength="43" lengthAdjust="spacingAndGlyphs" >AUDUSD</text>
<rect x="1515" y="368.8" width="60" height="30.7" rx="2" fill="#ef5350"/>
<text x="1522.5" y="381.5" font-size="12.5" fill="#fff" font-weight="bold" text-anchor="start" textLength="42" lengthAdjust="spacingAndGlyphs" >0.65366</text>
<text x="1522.5" y="396" font-size="12.5" fill="#ffd9d9" font-weight="normal" text-anchor="start" textLength="46" lengthAdjust="spacingAndGlyphs" >07:33:48</text>
<rect x="10" y="633.5" width="1572" height="1.5" fill="#e0e3eb"/>
<rect x="10" y="731" width="1572" height="1.5" fill="#e0e3eb"/>
<g clip-path="url(#macdc)">
<line x1="10" y1="684.5" x2="1515" y2="684.5" stroke="#b2b5be" stroke-width="1" stroke-dasharray="5 6" shape-rendering="crispEdges"/>
<rect x="10" y="684.3" width="5.4" height="2.9" fill="#ff5252"/>
<rect x="16" y="684.3" width="5.4" height="3.9" fill="#ff5252"/>
<rect x="22" y="684.3" width="5.4" height="4.2" fill="#ff5252"/>
<rect x="29" y="684.3" width="5.4" height="5.8" fill="#ff5252"/>
<rect x="35" y="684.3" width="5.4" height="3.9" fill="#ffcdd2"/>
<rect x="42" y="684.3" width="5.4" height="3.3" fill="#ffcdd2"/>
<rect x="48" y="684.3" width="5.4" height="1.4" fill="#ffcdd2"/>
<rect x="55" y="683.1" width="5.4" height="1.2" fill="#26a69a"/>
<rect x="61" y="680.1" width="5.4" height="4.2" fill="#26a69a"/>
<rect x="68" y="678.2" width="5.4" height="6.1" fill="#26a69a"/>
<rect x="74" y="677.0" width="5.4" height="7.3" fill="#26a69a"/>
<rect x="80" y="675.9" width="5.4" height="8.4" fill="#26a69a"/>
<rect x="87" y="679.3" width="5.4" height="5.0" fill="#b2dfdb"/>
<rect x="93" y="681.6" width="5.4" height="2.7" fill="#b2dfdb"/>
<rect x="100" y="683.3" width="5.4" height="1.0" fill="#b2dfdb"/>
<rect x="106" y="684.3" width="5.4" height="1.4" fill="#ff5252"/>
<rect x="113" y="684.3" width="5.4" height="1.6" fill="#ff5252"/>
<rect x="119" y="684.3" width="5.4" height="2.9" fill="#ff5252"/>
<rect x="125" y="684.3" width="5.4" height="2.0" fill="#ffcdd2"/>
<rect x="132" y="684.3" width="5.4" height="1.0" fill="#ffcdd2"/>
<rect x="138" y="684.3" width="5.4" height="4.2" fill="#ff5252"/>
<rect x="145" y="684.3" width="5.4" height="6.7" fill="#ff5252"/>
<rect x="151" y="684.3" width="5.4" height="9.5" fill="#ff5252"/>
<rect x="158" y="684.3" width="5.4" height="9.5" fill="#ff5252"/>
<rect x="164" y="684.3" width="5.4" height="9.5" fill="#ffcdd2"/>
<rect x="171" y="684.3" width="5.4" height="8.6" fill="#ffcdd2"/>
<rect x="177" y="684.3" width="5.4" height="8.2" fill="#ffcdd2"/>
<rect x="183" y="684.3" width="5.4" height="5.4" fill="#ffcdd2"/>
<rect x="190" y="684.3" width="5.4" height="2.6" fill="#ffcdd2"/>
<rect x="196" y="683.1" width="5.4" height="1.2" fill="#26a69a"/>
<rect x="203" y="679.1" width="5.4" height="5.2" fill="#26a69a"/>
<rect x="209" y="678.2" width="5.4" height="6.1" fill="#26a69a"/>
<rect x="216" y="675.0" width="5.4" height="9.3" fill="#26a69a"/>
<rect x="222" y="673.1" width="5.4" height="11.2" fill="#26a69a"/>
<rect x="228" y="672.1" width="5.4" height="12.2" fill="#26a69a"/>
<rect x="235" y="670.8" width="5.4" height="13.5" fill="#26a69a"/>
<rect x="241" y="670.8" width="5.4" height="13.5" fill="#26a69a"/>
<rect x="248" y="668.0" width="5.4" height="16.3" fill="#26a69a"/>
<rect x="254" y="668.0" width="5.4" height="16.3" fill="#26a69a"/>
<rect x="261" y="668.9" width="5.4" height="15.4" fill="#b2dfdb"/>
<rect x="267" y="673.1" width="5.4" height="11.2" fill="#b2dfdb"/>
<rect x="274" y="675.9" width="5.4" height="8.4" fill="#b2dfdb"/>
<rect x="280" y="679.1" width="5.4" height="5.2" fill="#b2dfdb"/>
<rect x="286" y="684.3" width="5.4" height="1.0" fill="#ff5252"/>
<rect x="293" y="684.3" width="5.4" height="4.3" fill="#ff5252"/>
<rect x="299" y="684.3" width="5.4" height="6.5" fill="#ff5252"/>
<rect x="306" y="684.3" width="5.4" height="9.3" fill="#ff5252"/>
<rect x="312" y="684.3" width="5.4" height="11.5" fill="#ff5252"/>
<rect x="319" y="684.3" width="5.4" height="10.5" fill="#ffcdd2"/>
<rect x="325" y="684.3" width="5.4" height="8.5" fill="#ffcdd2"/>
<rect x="332" y="684.3" width="5.4" height="6.5" fill="#ffcdd2"/>
<rect x="338" y="684.3" width="5.4" height="6.0" fill="#ffcdd2"/>
<rect x="344" y="684.3" width="5.4" height="7.5" fill="#ff5252"/>
<rect x="351" y="684.3" width="5.4" height="4.0" fill="#ffcdd2"/>
<rect x="357" y="684.3" width="5.4" height="2.5" fill="#ffcdd2"/>
<rect x="364" y="684.3" width="5.4" height="1.2" fill="#ffcdd2"/>
<rect x="370" y="681.8" width="5.4" height="2.5" fill="#26a69a"/>
<rect x="377" y="677.2" width="5.4" height="7.1" fill="#26a69a"/>
<rect x="383" y="674.7" width="5.4" height="9.6" fill="#26a69a"/>
<rect x="389" y="674.7" width="5.4" height="9.6" fill="#b2dfdb"/>
<rect x="396" y="676.5" width="5.4" height="7.8" fill="#b2dfdb"/>
<rect x="402" y="677.7" width="5.4" height="6.6" fill="#b2dfdb"/>
<rect x="409" y="680.3" width="5.4" height="4.0" fill="#b2dfdb"/>
<rect x="415" y="683.3" width="5.4" height="1.0" fill="#b2dfdb"/>
<rect x="422" y="684.3" width="5.4" height="1.0" fill="#ff5252"/>
<rect x="428" y="683.3" width="5.4" height="1.0" fill="#26a69a"/>
<rect x="435" y="684.3" width="5.4" height="1.5" fill="#ff5252"/>
<rect x="441" y="684.3" width="5.4" height="3.5" fill="#ff5252"/>
<rect x="447" y="684.3" width="5.4" height="6.5" fill="#ff5252"/>
<rect x="454" y="684.3" width="5.4" height="5.5" fill="#ffcdd2"/>
<rect x="460" y="684.3" width="5.4" height="8.5" fill="#ff5252"/>
<rect x="467" y="684.3" width="5.4" height="12.3" fill="#ff5252"/>
<rect x="473" y="684.3" width="5.4" height="13.6" fill="#ff5252"/>
<rect x="480" y="684.3" width="5.4" height="13.6" fill="#ffcdd2"/>
<rect x="486" y="684.3" width="5.4" height="12.3" fill="#ffcdd2"/>
<rect x="492" y="684.3" width="5.4" height="11.0" fill="#ffcdd2"/>
<rect x="499" y="684.3" width="5.4" height="11.0" fill="#ffcdd2"/>
<rect x="505" y="684.3" width="5.4" height="10.5" fill="#ffcdd2"/>
<rect x="512" y="684.3" width="5.4" height="10.5" fill="#ffcdd2"/>
<rect x="518" y="684.3" width="5.4" height="9.8" fill="#ffcdd2"/>
<rect x="525" y="684.3" width="5.4" height="9.8" fill="#ffcdd2"/>
<rect x="531" y="684.3" width="5.4" height="9.8" fill="#ff5252"/>
<rect x="538" y="684.3" width="5.4" height="9.8" fill="#ff5252"/>
<rect x="544" y="684.3" width="5.4" height="9.8" fill="#ffcdd2"/>
<rect x="550" y="684.3" width="5.4" height="7.3" fill="#ffcdd2"/>
<rect x="557" y="684.3" width="5.4" height="5.5" fill="#ffcdd2"/>
<rect x="563" y="684.3" width="5.4" height="2.5" fill="#ffcdd2"/>
<rect x="570" y="684.3" width="5.4" height="1.5" fill="#ffcdd2"/>
<rect x="576" y="684.3" width="5.4" height="1.5" fill="#ffcdd2"/>
<rect x="583" y="683.3" width="5.4" height="1.0" fill="#26a69a"/>
<rect x="589" y="681.0" width="5.4" height="3.3" fill="#26a69a"/>
<rect x="596" y="679.0" width="5.4" height="5.3" fill="#26a69a"/>
<rect x="602" y="678.2" width="5.4" height="6.1" fill="#26a69a"/>
<rect x="608" y="678.2" width="5.4" height="6.1" fill="#b2dfdb"/>
<rect x="615" y="678.2" width="5.4" height="6.1" fill="#26a69a"/>
<rect x="621" y="680.3" width="5.4" height="4.0" fill="#b2dfdb"/>
<rect x="628" y="682.0" width="5.4" height="2.3" fill="#b2dfdb"/>
<rect x="634" y="683.3" width="5.4" height="1.0" fill="#b2dfdb"/>
<rect x="641" y="682.8" width="5.4" height="1.5" fill="#b2dfdb"/>
<rect x="647" y="682.0" width="5.4" height="2.3" fill="#26a69a"/>
<rect x="653" y="681.0" width="5.4" height="3.3" fill="#26a69a"/>
<rect x="660" y="679.8" width="5.4" height="4.5" fill="#26a69a"/>
<rect x="666" y="679.0" width="5.4" height="5.3" fill="#26a69a"/>
<rect x="673" y="679.0" width="5.4" height="5.3" fill="#26a69a"/>
<rect x="679" y="679.0" width="5.4" height="5.3" fill="#26a69a"/>
<rect x="686" y="677.7" width="5.4" height="6.6" fill="#26a69a"/>
<rect x="692" y="677.7" width="5.4" height="6.6" fill="#26a69a"/>
<rect x="699" y="679.0" width="5.4" height="5.3" fill="#b2dfdb"/>
<rect x="705" y="679.0" width="5.4" height="5.3" fill="#b2dfdb"/>
<rect x="711" y="680.3" width="5.4" height="4.0" fill="#b2dfdb"/>
<rect x="718" y="681.0" width="5.4" height="3.3" fill="#b2dfdb"/>
<rect x="724" y="683.3" width="5.4" height="1.0" fill="#b2dfdb"/>
<rect x="731" y="682.8" width="5.4" height="1.5" fill="#26a69a"/>
<rect x="737" y="681.8" width="5.4" height="2.5" fill="#26a69a"/>
<rect x="744" y="683.0" width="5.4" height="1.3" fill="#b2dfdb"/>
<rect x="750" y="684.3" width="5.4" height="2.2" fill="#ff5252"/>
<rect x="756" y="684.3" width="5.4" height="3.2" fill="#ff5252"/>
<rect x="763" y="684.3" width="5.4" height="1.7" fill="#ffcdd2"/>
<rect x="769" y="684.3" width="5.4" height="1.0" fill="#ffcdd2"/>
<rect x="776" y="682.8" width="5.4" height="1.5" fill="#26a69a"/>
<rect x="782" y="680.8" width="5.4" height="3.5" fill="#26a69a"/>
<rect x="789" y="679.8" width="5.4" height="4.5" fill="#26a69a"/>
<rect x="795" y="682.8" width="5.4" height="1.5" fill="#b2dfdb"/>
<rect x="802" y="684.3" width="5.4" height="1.0" fill="#ff5252"/>
<rect x="808" y="684.3" width="5.4" height="1.0" fill="#ffcdd2"/>
<rect x="814" y="684.3" width="5.4" height="1.0" fill="#ffcdd2"/>
<rect x="821" y="684.3" width="5.4" height="1.0" fill="#ff5252"/>
<rect x="827" y="684.3" width="5.4" height="1.0" fill="#ff5252"/>
<rect x="834" y="684.3" width="5.4" height="1.0" fill="#ff5252"/>
<rect x="840" y="684.3" width="5.4" height="1.0" fill="#ffcdd2"/>
<rect x="847" y="682.8" width="5.4" height="1.5" fill="#26a69a"/>
<rect x="853" y="683.3" width="5.4" height="1.0" fill="#b2dfdb"/>
<rect x="859" y="683.3" width="5.4" height="1.0" fill="#26a69a"/>
<rect x="866" y="683.0" width="5.4" height="1.3" fill="#26a69a"/>
<rect x="872" y="681.8" width="5.4" height="2.5" fill="#26a69a"/>
<rect x="879" y="681.8" width="5.4" height="2.5" fill="#b2dfdb"/>
<rect x="885" y="680.3" width="5.4" height="4.0" fill="#26a69a"/>
<rect x="892" y="677.7" width="5.4" height="6.6" fill="#26a69a"/>
<rect x="898" y="674.0" width="5.4" height="10.3" fill="#26a69a"/>
<rect x="905" y="673.0" width="5.4" height="11.3" fill="#26a69a"/>
<rect x="911" y="676.5" width="5.4" height="7.8" fill="#b2dfdb"/>
<rect x="917" y="677.7" width="5.4" height="6.6" fill="#b2dfdb"/>
<rect x="924" y="679.8" width="5.4" height="4.5" fill="#b2dfdb"/>
<rect x="930" y="682.8" width="5.4" height="1.5" fill="#b2dfdb"/>
<rect x="937" y="683.3" width="5.4" height="1.0" fill="#b2dfdb"/>
<rect x="943" y="680.8" width="5.4" height="3.5" fill="#26a69a"/>
<rect x="950" y="678.2" width="5.4" height="6.1" fill="#26a69a"/>
<rect x="956" y="679.0" width="5.4" height="5.3" fill="#b2dfdb"/>
<rect x="963" y="677.7" width="5.4" height="6.6" fill="#26a69a"/>
<rect x="969" y="676.0" width="5.4" height="8.3" fill="#26a69a"/>
<rect x="975" y="676.5" width="5.4" height="7.8" fill="#26a69a"/>
<rect x="982" y="677.2" width="5.4" height="7.1" fill="#b2dfdb"/>
<rect x="988" y="677.2" width="5.4" height="7.1" fill="#b2dfdb"/>
<rect x="995" y="677.2" width="5.4" height="7.1" fill="#26a69a"/>
<rect x="1001" y="677.2" width="5.4" height="7.1" fill="#26a69a"/>
<rect x="1008" y="676.0" width="5.4" height="8.3" fill="#26a69a"/>
<rect x="1014" y="677.2" width="5.4" height="7.1" fill="#b2dfdb"/>
<rect x="1020" y="678.2" width="5.4" height="6.1" fill="#b2dfdb"/>
<rect x="1027" y="678.2" width="5.4" height="6.1" fill="#26a69a"/>
<rect x="1033" y="680.3" width="5.4" height="4.0" fill="#b2dfdb"/>
<rect x="1040" y="682.8" width="5.4" height="1.5" fill="#b2dfdb"/>
<rect x="1046" y="684.3" width="5.4" height="2.2" fill="#ff5252"/>
<rect x="1053" y="684.3" width="5.4" height="2.2" fill="#ff5252"/>
<rect x="1059" y="684.3" width="5.4" height="3.5" fill="#ff5252"/>
<rect x="1066" y="684.3" width="5.4" height="4.6" fill="#ff5252"/>
<rect x="1072" y="684.3" width="5.4" height="5.5" fill="#ff5252"/>
<rect x="1078" y="684.3" width="5.4" height="2.4" fill="#ffcdd2"/>
<rect x="1085" y="683.3" width="5.4" height="1.0" fill="#26a69a"/>
<rect x="1091" y="682.1" width="5.4" height="2.2" fill="#26a69a"/>
<rect x="1098" y="681.0" width="5.4" height="3.3" fill="#26a69a"/>
<rect x="1104" y="679.0" width="5.4" height="5.3" fill="#26a69a"/>
<rect x="1111" y="679.0" width="5.4" height="5.3" fill="#b2dfdb"/>
<rect x="1117" y="678.0" width="5.4" height="6.3" fill="#26a69a"/>
<rect x="1123" y="677.1" width="5.4" height="7.2" fill="#26a69a"/>
<rect x="1130" y="678.2" width="5.4" height="6.1" fill="#b2dfdb"/>
<rect x="1136" y="678.2" width="5.4" height="6.1" fill="#b2dfdb"/>
<rect x="1143" y="678.2" width="5.4" height="6.1" fill="#26a69a"/>
<rect x="1149" y="679.0" width="5.4" height="5.3" fill="#b2dfdb"/>
<rect x="1156" y="681.0" width="5.4" height="3.3" fill="#b2dfdb"/>
<rect x="1162" y="683.0" width="5.4" height="1.3" fill="#b2dfdb"/>
<rect x="1169" y="684.3" width="5.4" height="2.4" fill="#ff5252"/>
<rect x="1175" y="684.3" width="5.4" height="5.5" fill="#ff5252"/>
<rect x="1181" y="684.3" width="5.4" height="7.6" fill="#ff5252"/>
<rect x="1188" y="684.3" width="5.4" height="9.5" fill="#ff5252"/>
<rect x="1194" y="684.3" width="5.4" height="9.5" fill="#ff5252"/>
<rect x="1201" y="684.3" width="5.4" height="10.6" fill="#ff5252"/>
<rect x="1207" y="684.3" width="5.4" height="10.6" fill="#ffcdd2"/>
<rect x="1214" y="684.3" width="5.4" height="10.6" fill="#ff5252"/>
<rect x="1220" y="684.3" width="5.4" height="10.6" fill="#ffcdd2"/>
<rect x="1226" y="684.3" width="5.4" height="10.6" fill="#ff5252"/>
<rect x="1233" y="684.3" width="5.4" height="12.5" fill="#ff5252"/>
<rect x="1239" y="684.3" width="5.4" height="15.6" fill="#ff5252"/>
<path d="M10.4,685.7 C16.5,686.7 33.1,692.3 47.1,691.9 C61.1,691.5 80.1,684.4 94.3,683.5 C108.5,682.6 116.3,683.4 132.0,686.3 C147.7,689.2 172.9,699.6 188.6,700.8 C204.3,702.0 210.6,699.2 226.3,693.3 C242.0,687.4 271.4,670.0 282.9,665.5 C294.4,661.0 287.2,664.4 295.1,666.4 C303.0,668.4 319.0,674.6 330.3,677.7 C341.6,680.8 351.3,685.2 363.0,684.8 C374.7,684.4 390.6,677.1 400.7,675.2 C410.8,673.3 414.1,672.8 423.3,673.2 C432.5,673.6 446.4,674.6 456.0,677.7 C465.6,680.8 468.5,686.6 481.1,691.6 C493.7,696.6 518.8,703.8 531.4,707.9 C544.0,712.0 548.2,714.4 556.6,716.0 C565.0,717.6 571.2,718.4 581.7,717.5 C592.2,716.6 608.9,712.0 619.4,710.4 C629.9,708.8 634.5,709.4 644.6,707.9 C654.7,706.4 667.4,703.7 680.0,701.6 C692.6,699.5 707.3,696.3 720.3,695.3 C733.3,694.3 745.4,695.9 758.0,695.8 C770.6,695.7 776.9,694.9 795.7,694.8 C814.6,694.7 854.3,696.0 871.1,695.3 C887.9,694.5 887.9,692.4 896.3,690.3 C904.7,688.2 913.9,684.4 921.4,682.8 C928.9,681.2 933.1,682.5 941.5,680.8 C949.9,679.1 962.5,675.4 971.7,672.7 C980.9,670.0 988.4,667.0 996.8,664.7 C1005.2,662.4 1015.3,660.2 1022.0,658.9 C1028.7,657.6 1030.8,657.1 1037.1,657.1 C1043.4,657.1 1052.9,658.2 1060.0,659.1 C1067.1,660.0 1073.3,662.1 1079.6,662.5 C1085.9,662.9 1092.2,662.1 1097.7,661.4 C1103.2,660.7 1107.8,659.6 1112.8,658.4 C1117.8,657.1 1121.6,655.4 1127.9,653.9 C1134.2,652.4 1144.2,650.2 1150.5,649.3 C1156.8,648.4 1160.6,648.0 1165.6,648.3 C1170.6,648.5 1174.4,648.9 1180.7,650.8 C1187.0,652.7 1195.8,656.6 1203.3,659.9 C1210.8,663.2 1219.6,667.8 1225.9,670.4 C1232.2,673.0 1238.5,674.8 1241.0,675.7" fill="none" stroke="#ff6d00" stroke-width="1.2" stroke-linejoin="round"/>
<path d="M10.4,687.2 C14.6,688.5 28.1,694.6 35.8,695.1 C43.5,695.6 49.1,693.0 56.6,690.1 C64.2,687.2 74.8,679.2 81.1,677.8 C87.4,676.4 87.7,680.0 94.3,681.6 C100.9,683.2 113.8,686.2 120.7,687.6 C127.6,689.0 130.2,688.0 135.8,690.1 C141.5,692.2 147.4,697.6 154.6,700.4 C161.8,703.2 170.3,708.2 179.1,707.0 C187.9,705.8 198.0,698.1 207.4,692.9 C216.8,687.7 226.6,681.9 235.7,675.9 C244.8,669.9 254.9,659.8 262.1,657.1 C269.3,654.4 272.8,657.3 279.1,659.9 C285.4,662.5 294.1,668.7 300.1,672.7 C306.1,676.7 307.6,681.4 315.2,684.0 C322.8,686.6 337.0,687.8 345.4,688.3 C353.8,688.8 359.6,689.4 365.5,687.0 C371.4,684.6 375.2,677.2 380.6,674.0 C386.1,670.8 392.8,668.3 398.2,667.7 C403.6,667.1 407.8,669.2 413.2,670.2 C418.6,671.2 424.5,672.1 430.8,674.0 C437.1,675.9 443.4,677.3 451.0,681.5 C458.6,685.7 466.9,694.7 476.1,699.1 C485.3,703.5 497.1,705.2 506.3,707.9 C515.5,710.6 524.3,713.2 531.4,715.5 C538.5,717.8 543.1,721.2 549.0,721.7 C554.9,722.2 561.1,719.2 566.6,718.5 C572.1,717.8 575.4,719.4 581.7,717.5 C588.0,715.6 598.4,709.6 604.3,707.4 C610.2,705.2 610.2,704.0 616.9,704.1 C623.6,704.2 635.8,708.6 644.6,707.9 C653.5,707.2 661.6,702.2 670.0,699.9 C678.4,697.6 688.0,695.3 695.1,694.1 C702.2,692.9 707.7,692.6 712.7,692.8 C717.7,693.0 721.1,695.3 725.3,695.3 C729.5,695.3 732.9,692.3 737.9,692.8 C742.9,693.3 750.9,697.3 755.5,698.4 C760.1,699.5 760.0,700.1 765.5,699.1 C771.0,698.1 781.5,692.8 788.2,692.3 C794.9,691.8 798.7,695.1 805.8,695.8 C812.9,696.5 824.2,696.7 830.9,696.6 C837.6,696.5 840.1,695.4 846.0,695.3 C851.9,695.2 859.8,696.2 866.1,695.8 C872.4,695.4 879.1,694.3 883.7,692.8 C888.3,691.2 889.6,689.4 893.8,686.5 C898.0,683.6 904.2,677.2 908.8,675.7 C913.4,674.2 916.4,676.2 921.4,677.2 C926.4,678.2 933.5,682.0 939.0,681.5 C944.5,681.0 948.6,676.3 954.1,674.0 C959.6,671.7 965.4,669.8 971.7,667.7 C978.0,665.6 985.1,663.5 991.8,661.4 C998.5,659.3 1005.6,656.6 1011.9,655.1 C1018.2,653.6 1023.6,651.9 1029.5,652.6 C1035.4,653.4 1042.0,658.0 1047.1,659.6 C1052.2,661.2 1055.6,661.0 1060.0,662.2 C1064.4,663.4 1068.6,667.1 1073.6,666.7 C1078.6,666.3 1084.9,661.9 1090.2,659.9 C1095.5,657.9 1101.5,655.6 1105.3,654.6 C1109.1,653.6 1109.8,654.8 1112.8,653.9 C1115.8,653.0 1119.6,650.5 1123.4,649.3 C1127.2,648.1 1131.4,647.6 1135.4,646.8 C1139.4,646.0 1143.0,644.5 1147.5,644.4 C1152.0,644.3 1158.3,645.2 1162.6,646.3 C1166.9,647.4 1169.6,648.6 1173.1,650.8 C1176.6,653.0 1178.7,656.2 1183.7,659.4 C1188.7,662.5 1196.8,666.7 1203.3,669.7 C1209.8,672.7 1217.9,674.8 1222.9,677.2 C1227.9,679.6 1230.5,681.7 1233.5,684.0 C1236.5,686.3 1239.8,689.7 1241.0,690.8" fill="none" stroke="#2962ff" stroke-width="1.2" stroke-linejoin="round"/>
</g>
<text x="17.9" y="653.7" font-size="12.5" fill="#2a2e39" font-weight="normal" text-anchor="start" textLength="30.2" lengthAdjust="spacingAndGlyphs" >MACD</text>
<text x="56" y="653.7" font-size="12.5" fill="#f23645" font-weight="normal" text-anchor="start" textLength="47.3" lengthAdjust="spacingAndGlyphs" >−0.00299</text>
<text x="111.6" y="653.7" font-size="12.5" fill="#2962ff" font-weight="normal" text-anchor="start" textLength="47.7" lengthAdjust="spacingAndGlyphs" >−0.00135</text>
<text x="166.9" y="653.7" font-size="12.5" fill="#ff6d00" font-weight="normal" text-anchor="start" textLength="41.5" lengthAdjust="spacingAndGlyphs" >0.00163</text>
<rect x="1473" y="657.1" width="41" height="16.6" rx="2" fill="#ff6d00"/>
<text x="1477.5" y="669.9" font-size="12.5" fill="#fff" font-weight="bold" text-anchor="start" textLength="31" lengthAdjust="spacingAndGlyphs" >Signal</text>
<rect x="1515" y="657.1" width="56" height="16.6" rx="2" fill="#ff6d00"/>
<text x="1522.5" y="669.9" font-size="12.5" fill="#fff" font-weight="bold" text-anchor="start" textLength="42" lengthAdjust="spacingAndGlyphs" >0.00163</text>
<rect x="1474" y="673.7" width="40" height="17" rx="2" fill="#2962ff"/>
<text x="1478.5" y="686.7" font-size="12.5" fill="#fff" font-weight="bold" text-anchor="start" textLength="31" lengthAdjust="spacingAndGlyphs" >MACD</text>
<rect x="1515" y="673.7" width="62" height="17" rx="2" fill="#2962ff"/>
<text x="1522.5" y="686.7" font-size="12.5" fill="#fff" font-weight="bold" text-anchor="start" textLength="48" lengthAdjust="spacingAndGlyphs" >−0.00135</text>
<rect x="1450" y="690.7" width="64" height="17" rx="2" fill="#ff5252"/>
<text x="1455" y="703.7" font-size="12.5" fill="#fff" font-weight="bold" text-anchor="start" textLength="54" lengthAdjust="spacingAndGlyphs" >Histogram</text>
<rect x="1515" y="690.7" width="62" height="17" rx="2" fill="#ff5252"/>
<text x="1522.5" y="703.7" font-size="12.5" fill="#fff" font-weight="bold" text-anchor="start" textLength="48" lengthAdjust="spacingAndGlyphs" >−0.00299</text>
<g clip-path="url(#rsic)">
<rect x="10" y="746.4" width="1505" height="68.6" fill="#f2eff9"/>
<line x1="10" y1="746.5" x2="1515" y2="746.5" stroke="#787b86" stroke-width="1" stroke-dasharray="5 6" shape-rendering="crispEdges"/>
<line x1="10" y1="781.5" x2="1515" y2="781.5" stroke="#b2b5be" stroke-width="1" stroke-dasharray="5 6" shape-rendering="crispEdges"/>
<line x1="10" y1="815.5" x2="1515" y2="815.5" stroke="#787b86" stroke-width="1" stroke-dasharray="5 6" shape-rendering="crispEdges"/>
<path d="M10.6,783.3 C13.2,783.5 19.4,784.1 26.4,784.4 C33.4,784.7 44.0,785.5 52.8,785.2 C61.6,784.9 70.4,783.3 79.2,782.5 C88.0,781.7 96.8,780.9 105.6,780.4 C114.4,779.9 125.4,779.1 132.0,779.4 C138.6,779.7 138.6,779.9 145.2,782.0 C151.8,784.1 165.0,789.6 171.6,791.8 C178.2,794.0 179.1,794.8 184.8,795.2 C190.5,795.6 199.3,795.4 205.9,794.4 C212.5,793.4 218.2,791.4 224.4,789.1 C230.6,786.8 236.3,784.1 242.9,780.4 C249.5,776.7 257.6,769.9 264.0,766.7 C270.4,763.5 275.0,761.9 281.2,761.4 C287.4,760.9 295.1,762.7 301.0,764.0 C306.9,765.3 311.1,767.3 316.8,769.3 C322.5,771.3 329.6,773.6 335.3,775.9 C341.0,778.2 345.8,781.2 351.1,783.0 C356.4,784.8 361.2,786.9 366.9,786.5 C372.6,786.1 379.2,782.4 385.4,780.4 C391.6,778.4 397.6,775.6 403.9,774.6 C410.2,773.6 417.8,774.6 423.2,774.1 C428.6,773.6 431.1,771.5 436.4,771.4 C441.7,771.3 448.7,771.5 454.9,773.3 C461.1,775.1 466.4,779.1 473.4,782.0 C480.4,784.9 490.1,788.1 497.1,790.4 C504.1,792.7 509.0,793.4 515.6,795.7 C522.2,798.0 530.5,802.1 536.7,804.2 C542.9,806.3 544.7,807.5 552.6,808.4 C560.5,809.3 572.8,810.4 584.2,809.4 C595.6,808.4 610.6,804.1 621.2,802.3 C631.8,800.5 638.8,799.7 647.6,798.4 C656.4,797.1 665.2,795.4 674.0,794.4 C682.8,793.4 691.6,793.3 700.4,792.6 C709.2,791.9 720.2,791.0 726.8,790.4 C733.4,789.8 734.7,789.0 740.0,789.1 C745.3,789.2 751.9,790.7 758.5,791.0 C765.1,791.3 773.9,791.2 779.6,791.0 C785.3,790.8 787.5,789.8 792.8,789.9 C798.1,790.0 804.3,791.6 811.3,791.8 C818.3,792.0 828.9,791.7 834.9,791.2 C840.9,790.8 842.3,789.5 847.0,789.1 C851.7,788.8 857.6,788.9 863.2,789.1 C868.8,789.3 874.5,791.4 880.8,790.4 C887.1,789.4 894.1,785.0 901.1,783.1 C908.1,781.2 916.4,779.6 922.7,778.8 C929.0,778.0 932.1,779.4 938.9,778.2 C945.6,777.0 956.0,773.2 963.2,771.5 C970.4,769.8 976.8,768.6 982.2,768.0 C987.6,767.4 987.6,769.8 995.7,768.0 C1003.8,766.2 1021.3,758.9 1030.8,757.4 C1040.2,755.9 1045.2,758.5 1052.4,759.3 C1059.6,760.1 1066.4,761.3 1074.1,762.0 C1081.8,762.7 1091.0,763.4 1098.4,763.4 C1105.8,763.4 1111.8,763.2 1118.6,762.0 C1125.3,760.8 1131.0,758.0 1138.9,756.1 C1146.8,754.2 1158.2,750.7 1165.9,750.4 C1173.6,750.1 1178.5,752.9 1184.9,754.5 C1191.3,756.1 1197.8,757.5 1204.1,759.9 C1210.4,762.3 1216.9,765.3 1223.0,768.8 C1229.1,772.3 1237.8,779.0 1240.8,781.0" fill="none" stroke="#fce74a" stroke-width="1.2" stroke-linejoin="round"/>
<polyline points="10.6,791.8 18.0,798.4 24.3,792.6 31.2,795.2 37.0,791.8 43.6,785.2 50.2,782.0 56.8,777.8 63.4,767.2 70.0,761.9 76.6,767.2 82.4,764.6 89.0,779.9 95.0,791.2 101.6,780.4 108.2,787.0 114.8,786.5 121.4,792.6 128.0,787.0 134.6,787.3 141.2,795.7 147.3,804.2 153.1,808.9 159.7,806.3 166.3,801.5 172.9,804.2 179.5,806.3 184.8,790.4 191.4,783.0 198.0,780.4 204.6,770.6 211.2,774.1 217.8,764.6 224.4,760.1 231.0,758.2 237.6,755.6 242.9,752.2 250.3,740.8 256.6,744.2 262.7,750.3 268.7,766.2 275.9,764.6 281.9,774.1 287.7,787.3 294.3,787.8 301.0,785.7 307.5,798.9 314.2,796.2 320.7,787.0 327.3,784.6 333.9,781.2 340.6,787.3 346.4,792.6 353.2,779.9 359.5,782.5 366.4,780.4 372.8,762.7 378.8,751.4 385.4,760.9 392.0,765.4 398.1,766.2 405.2,773.3 410.0,772.5 416.6,781.2 423.2,779.9 429.8,771.4 436.4,776.7 449.1,795.7 455.4,782.5 461.5,796.2 468.6,805.0 481.3,799.1 487.9,798.4 494.5,802.3 505.0,805.0 519.6,809.4 526.2,812.9 532.8,816.8 540.7,819.5 546.0,818.9 552.6,815.5 559.2,812.9 565.2,797.0 571.6,805.7 577.6,808.4 584.8,802.3 590.8,789.6 597.4,789.9 604.0,787.3 610.1,793.6 616.7,791.2 623.3,805.7 629.6,804.7 636.5,805.2 642.8,805.2 648.9,789.6 655.5,791.0 662.1,792.3 668.2,786.5 674.8,789.1 680.6,787.3 687.7,781.7 694.6,783.8 700.9,792.6 707.0,784.6 714.1,789.1 720.2,795.7 726.3,805.7 732.6,783.8 738.7,781.5 745.8,795.7 751.9,806.3 758.5,801.0 765.1,790.4 771.7,786.5 778.3,781.2 784.3,776.7 790.9,780.4 797.5,798.4 804.1,801.5 810.0,791.8 816.6,785.7 823.1,791.0 828.1,792.3 835.7,795.3 843.0,788.5 849.2,784.5 855.1,793.6 861.9,790.4 868.1,788.2 874.1,778.2 880.8,785.8 887.0,773.6 893.5,767.4 899.7,755.5 906.5,760.7 913.2,772.3 920.0,779.6 925.9,785.0 932.2,786.4 938.9,782.3 944.9,761.5 951.9,761.2 958.4,769.3 965.1,763.4 971.4,757.4 977.3,757.7 983.5,761.2 990.3,758.2 996.5,755.3 1003.2,751.2 1010.0,746.4 1016.5,754.5 1021.9,758.0 1028.6,748.5 1035.4,763.4 1042.2,775.5 1048.4,776.1 1054.6,768.0 1061.4,772.8 1067.8,773.6 1074.1,775.5 1080.0,760.1 1087.6,755.3 1099.7,753.9 1105.9,747.2 1112.7,755.3 1119.5,746.4 1126.2,747.2 1133.5,746.4 1144.3,741.2 1151.1,747.2 1157.8,752.6 1164.1,753.4 1171.4,766.9 1176.8,774.2 1183.0,779.6 1189.7,778.2 1196.5,777.4 1203.2,785.0 1209.2,781.8 1215.9,785.0 1222.2,785.5 1228.1,792.3 1234.9,806.6 1240.8,814.7" fill="none" stroke="#7e57c2" stroke-width="1.2" stroke-linejoin="round"/>
</g>
<circle cx="1241.3" cy="812.3" r="14.3" fill="#d39fe0" stroke="#5d5d5d" stroke-width="2" fill-opacity="0.95"/>
<polyline points="1228.1,792.3 1234.9,806.6 1240.8,814.7" fill="none" stroke="#7e57c2" stroke-width="1.2"/>
<text x="18.5" y="751.2" font-size="12.5" fill="#2a2e39" font-weight="normal" text-anchor="start" textLength="16.5" lengthAdjust="spacingAndGlyphs" >RSI</text>
<text x="42" y="751.2" font-size="12.5" fill="#7e57c2" font-weight="normal" text-anchor="start" textLength="28.5" lengthAdjust="spacingAndGlyphs" >30.12</text>
<text x="78.5" y="751.2" font-size="12.5" fill="#f5d835" font-weight="normal" text-anchor="start" textLength="28.5" lengthAdjust="spacingAndGlyphs" >49.77</text>
<text x="119.4" y="751.2" font-size="12.5" fill="#50535e" font-weight="normal" text-anchor="middle" >∅</text>
<text x="134.5" y="751.2" font-size="12.5" fill="#50535e" font-weight="normal" text-anchor="middle" >∅</text>
<text x="149.6" y="751.2" font-size="12.5" fill="#50535e" font-weight="normal" text-anchor="middle" >∅</text>
<text x="164.7" y="751.2" font-size="12.5" fill="#50535e" font-weight="normal" text-anchor="middle" >∅</text>
<text x="179.8" y="751.2" font-size="12.5" fill="#50535e" font-weight="normal" text-anchor="middle" >∅</text>
<text x="194.9" y="751.2" font-size="12.5" fill="#50535e" font-weight="normal" text-anchor="middle" >∅</text>
<rect x="1422" y="735.8" width="92" height="14.6" fill="#fff"/>
<text x="1426.5" y="746.3" font-size="12.5" fill="#131722" font-weight="normal" text-anchor="start" textLength="82" lengthAdjust="spacingAndGlyphs" >Regular Bearish</text>
<text x="1523.7" y="746.3" font-size="12.5" fill="#131722" font-weight="normal" text-anchor="start" textLength="28.3" lengthAdjust="spacingAndGlyphs" >72.49</text>
<rect x="1425" y="756" width="89" height="16.6" fill="#fff"/>
<text x="1430.5" y="768.7" font-size="12.5" fill="#131722" font-weight="normal" text-anchor="start" textLength="78.5" lengthAdjust="spacingAndGlyphs" >Regular Bullish</text>
<text x="1523.7" y="768.7" font-size="12.5" fill="#131722" font-weight="normal" text-anchor="start" textLength="28.3" lengthAdjust="spacingAndGlyphs" >52.52</text>
<rect x="1434" y="773" width="80" height="16.8" rx="2" fill="#ffeb3b"/>
<text x="1438.5" y="785.9" font-size="12.5" fill="#131722" font-weight="normal" text-anchor="start" textLength="70.5" lengthAdjust="spacingAndGlyphs" >RSI-based MA</text>
<rect x="1515" y="773" width="43" height="16.8" rx="2" fill="#ffeb3b"/>
<text x="1523.7" y="785.9" font-size="12.5" fill="#131722" font-weight="normal" text-anchor="start" textLength="28.3" lengthAdjust="spacingAndGlyphs" >49.77</text>
<text x="1523.7" y="802.5" font-size="12.5" fill="#5d606b" font-weight="normal" text-anchor="start" textLength="28.3" lengthAdjust="spacingAndGlyphs" >40.00</text>
<rect x="1488.3" y="807" width="25.7" height="16.4" rx="2" fill="#7e57c2"/>
<text x="1492.5" y="819.7" font-size="12.5" fill="#fff" font-weight="bold" text-anchor="start" textLength="17" lengthAdjust="spacingAndGlyphs" >RSI</text>
<rect x="1515" y="807" width="43" height="16.4" rx="2" fill="#7e57c2"/>
<text x="1523.7" y="819.7" font-size="12.5" fill="#fff" font-weight="bold" text-anchor="start" textLength="28.3" lengthAdjust="spacingAndGlyphs" >30.12</text>
<rect x="10" y="827.6" width="1571" height="1.1" fill="#50535e"/>
<text x="37.2" y="845.9" font-size="12.5" fill="#50535e" font-weight="normal" text-anchor="middle" >May</text>
<text x="185.3" y="845.9" font-size="12.5" fill="#50535e" font-weight="normal" text-anchor="middle" >Jun</text>
<text x="326.8" y="845.9" font-size="12.5" fill="#50535e" font-weight="normal" text-anchor="middle" >Jul</text>
<text x="462.2" y="845.9" font-size="12.5" fill="#50535e" font-weight="normal" text-anchor="middle" >Aug</text>
<text x="610.4" y="845.9" font-size="12.5" fill="#50535e" font-weight="normal" text-anchor="middle" >Sep</text>
<text x="745.4" y="845.9" font-size="12.5" fill="#50535e" font-weight="normal" text-anchor="middle" >Oct</text>
<text x="887" y="845.9" font-size="12.5" fill="#50535e" font-weight="normal" text-anchor="middle" >Nov</text>
<text x="1028.6" y="845.9" font-size="12.5" fill="#50535e" font-weight="normal" text-anchor="middle" >Dec</text>
<text x="1164.2" y="845.9" font-size="12.5" fill="#50535e" font-weight="bold" text-anchor="middle" >2024</text>
<text x="1312" y="845.9" font-size="12.5" fill="#50535e" font-weight="normal" text-anchor="middle" >Feb</text>
<text x="1447.6" y="845.9" font-size="12.5" fill="#50535e" font-weight="normal" text-anchor="middle" >Mar</text>
<path d="M10 868 h8.2 v10.2 h-4.4 v-6.6 h-3.8z" fill="#131722"/>
<circle cx="21.6" cy="869.9" r="1.9" fill="#131722"/>
<path d="M24.2 868 h5.3 l-4.6 10.2 h-4.2z" fill="#131722"/>
<text x="33" y="878" font-size="13" fill="#131722" font-weight="normal" text-anchor="start" textLength="70" lengthAdjust="spacingAndGlyphs" >TradingView</text>
<defs><filter id="wmblur" x="-5%" y="-20%" width="110%" height="140%"><feGaussianBlur stdDeviation="0.9"/></filter><mask id="wmmask" maskUnits="userSpaceOnUse" x="1300" y="780" width="291" height="90"><rect x="1300" y="780" width="291" height="90" fill="#fff"/><g fill="#000" stroke="#000"><path d="M1359.8,800.0 L1367.8,800.0 L1366.7,810.0 L1358.7,810.0Z M1369.8,800.0 L1410.8,800.0 L1409.5,806.0 L1368.5,806.0Z M1360.0,813.0 L1366.0,813.0 L1364.5,825.0 L1358.5,825.0Z M1400.9,804.0 L1408.9,804.0 L1398.9,851.0 L1390.9,851.0Z M1374.2,812.0 L1381.2,812.0 L1374.2,845.0 L1367.2,845.0Z M1377.2,812.0 L1403.2,812.0 L1402.4,816.0 L1376.4,816.0Z M1371.6,829.0 L1399.6,829.0 L1398.8,833.0 L1370.8,833.0Z M1360.2,845.0 L1400.2,845.0 L1398.9,851.0 L1358.9,851.0Z M1418.0,799.0 L1468.0,799.0 L1466.7,805.0 L1416.7,805.0Z M1419.7,805.0 L1426.7,805.0 L1423.5,820.0 L1416.5,820.0Z M1413.0,818.0 L1459.0,818.0 L1457.3,826.0 L1411.3,826.0Z M1460.0,799.0 L1468.0,799.0 L1456.8,851.5 L1448.8,851.5Z M1407.8,833.0 L1455.8,833.0 L1454.0,841.5 L1406.0,841.5Z M1431.2,845.0 L1458.2,845.0 L1456.8,851.5 L1429.8,851.5Z M1471.0,799.0 L1482.0,799.0 L1473.5,839.0 L1462.5,839.0Z M1471.0,799.0 L1498.0,799.0 L1496.0,808.3 L1469.0,808.3Z M1490.3,807.0 L1495.8,807.0 L1489.0,839.0 L1483.5,839.0Z M1498.0,799.0 L1504.0,799.0 L1493.4,849.0 L1487.4,849.0Z M1497.5,806.0 L1517.5,806.0 L1516.2,812.0 L1496.2,812.0Z M1483.4,844.0 L1509.4,844.0 L1507.9,851.0 L1481.9,851.0Z M1540.3,835.0 L1578.3,835.0 L1577.4,839.5 L1539.4,839.5Z M1558.0,827.0 L1564.0,827.0 L1559.4,849.0 L1553.4,849.0Z M1532.8,847.0 L1576.8,847.0 L1575.7,852.0 L1531.7,852.0Z"/><path d="M1345.9,851.0 L1363.8,833.0" fill="none" stroke-width="8" stroke-linejoin="miter" stroke-linecap="butt"/><path d="M1384.5,820.0 L1387.8,828.0" fill="none" stroke-width="4" stroke-linejoin="miter" stroke-linecap="butt"/><path d="M1462.7,852.0 L1471.7,838.0" fill="none" stroke-width="7" stroke-linejoin="miter" stroke-linecap="butt"/><path d="M1482.7,838.0 L1488.9,851.0" fill="none" stroke-width="6" stroke-linejoin="miter" stroke-linecap="butt"/><path d="M1514.2,812.0 L1497.5,839.0" fill="none" stroke-width="5" stroke-linejoin="miter" stroke-linecap="butt"/><path d="M1540.8,800.0 L1530.8,814.0 L1540.8,814.0 L1527.8,828.0 L1540.3,826.0" fill="none" stroke-width="5" stroke-linejoin="miter" stroke-linecap="butt"/><path d="M1519.2,850.0 L1537.6,843.0" fill="none" stroke-width="5" stroke-linejoin="miter" stroke-linecap="butt"/><path d="M1555.7,805.0 L1575.7,805.0 L1560.5,820.0 L1549.0,827.0" fill="none" stroke-width="6" stroke-linejoin="miter" stroke-linecap="butt"/><path d="M1588.8,800.0 L1571.2,817.0 L1583.0,827.0" fill="none" stroke-width="6" stroke-linejoin="miter" stroke-linecap="butt"/></g></mask></defs>
<filter id="wmsoft" x="-20%" y="-50%" width="140%" height="200%"><feGaussianBlur stdDeviation="3"/></filter><path d="M1358,801 L1591,801 L1591,853 L1347,853 Z" fill="#fff" opacity="0.2" filter="url(#wmsoft)"/>
<g mask="url(#wmmask)"><g transform="translate(1.8,2.2)" fill="#333" stroke="#333" opacity="0.85" filter="url(#wmblur)"><path d="M1359.8,800.0 L1367.8,800.0 L1366.7,810.0 L1358.7,810.0Z M1369.8,800.0 L1410.8,800.0 L1409.5,806.0 L1368.5,806.0Z M1360.0,813.0 L1366.0,813.0 L1364.5,825.0 L1358.5,825.0Z M1400.9,804.0 L1408.9,804.0 L1398.9,851.0 L1390.9,851.0Z M1374.2,812.0 L1381.2,812.0 L1374.2,845.0 L1367.2,845.0Z M1377.2,812.0 L1403.2,812.0 L1402.4,816.0 L1376.4,816.0Z M1371.6,829.0 L1399.6,829.0 L1398.8,833.0 L1370.8,833.0Z M1360.2,845.0 L1400.2,845.0 L1398.9,851.0 L1358.9,851.0Z M1418.0,799.0 L1468.0,799.0 L1466.7,805.0 L1416.7,805.0Z M1419.7,805.0 L1426.7,805.0 L1423.5,820.0 L1416.5,820.0Z M1413.0,818.0 L1459.0,818.0 L1457.3,826.0 L1411.3,826.0Z M1460.0,799.0 L1468.0,799.0 L1456.8,851.5 L1448.8,851.5Z M1407.8,833.0 L1455.8,833.0 L1454.0,841.5 L1406.0,841.5Z M1431.2,845.0 L1458.2,845.0 L1456.8,851.5 L1429.8,851.5Z M1471.0,799.0 L1482.0,799.0 L1473.5,839.0 L1462.5,839.0Z M1471.0,799.0 L1498.0,799.0 L1496.0,808.3 L1469.0,808.3Z M1490.3,807.0 L1495.8,807.0 L1489.0,839.0 L1483.5,839.0Z M1498.0,799.0 L1504.0,799.0 L1493.4,849.0 L1487.4,849.0Z M1497.5,806.0 L1517.5,806.0 L1516.2,812.0 L1496.2,812.0Z M1483.4,844.0 L1509.4,844.0 L1507.9,851.0 L1481.9,851.0Z M1540.3,835.0 L1578.3,835.0 L1577.4,839.5 L1539.4,839.5Z M1558.0,827.0 L1564.0,827.0 L1559.4,849.0 L1553.4,849.0Z M1532.8,847.0 L1576.8,847.0 L1575.7,852.0 L1531.7,852.0Z"/><path d="M1345.9,851.0 L1363.8,833.0" fill="none" stroke-width="8" stroke-linejoin="miter" stroke-linecap="butt"/><path d="M1384.5,820.0 L1387.8,828.0" fill="none" stroke-width="4" stroke-linejoin="miter" stroke-linecap="butt"/><path d="M1462.7,852.0 L1471.7,838.0" fill="none" stroke-width="7" stroke-linejoin="miter" stroke-linecap="butt"/><path d="M1482.7,838.0 L1488.9,851.0" fill="none" stroke-width="6" stroke-linejoin="miter" stroke-linecap="butt"/><path d="M1514.2,812.0 L1497.5,839.0" fill="none" stroke-width="5" stroke-linejoin="miter" stroke-linecap="butt"/><path d="M1540.8,800.0 L1530.8,814.0 L1540.8,814.0 L1527.8,828.0 L1540.3,826.0" fill="none" stroke-width="5" stroke-linejoin="miter" stroke-linecap="butt"/><path d="M1519.2,850.0 L1537.6,843.0" fill="none" stroke-width="5" stroke-linejoin="miter" stroke-linecap="butt"/><path d="M1555.7,805.0 L1575.7,805.0 L1560.5,820.0 L1549.0,827.0" fill="none" stroke-width="6" stroke-linejoin="miter" stroke-linecap="butt"/><path d="M1588.8,800.0 L1571.2,817.0 L1583.0,827.0" fill="none" stroke-width="6" stroke-linejoin="miter" stroke-linecap="butt"/></g></g>
<g fill="#fff" stroke="#fff" opacity="0.7"><path d="M1359.8,800.0 L1367.8,800.0 L1366.7,810.0 L1358.7,810.0Z M1369.8,800.0 L1410.8,800.0 L1409.5,806.0 L1368.5,806.0Z M1360.0,813.0 L1366.0,813.0 L1364.5,825.0 L1358.5,825.0Z M1400.9,804.0 L1408.9,804.0 L1398.9,851.0 L1390.9,851.0Z M1374.2,812.0 L1381.2,812.0 L1374.2,845.0 L1367.2,845.0Z M1377.2,812.0 L1403.2,812.0 L1402.4,816.0 L1376.4,816.0Z M1371.6,829.0 L1399.6,829.0 L1398.8,833.0 L1370.8,833.0Z M1360.2,845.0 L1400.2,845.0 L1398.9,851.0 L1358.9,851.0Z M1418.0,799.0 L1468.0,799.0 L1466.7,805.0 L1416.7,805.0Z M1419.7,805.0 L1426.7,805.0 L1423.5,820.0 L1416.5,820.0Z M1413.0,818.0 L1459.0,818.0 L1457.3,826.0 L1411.3,826.0Z M1460.0,799.0 L1468.0,799.0 L1456.8,851.5 L1448.8,851.5Z M1407.8,833.0 L1455.8,833.0 L1454.0,841.5 L1406.0,841.5Z M1431.2,845.0 L1458.2,845.0 L1456.8,851.5 L1429.8,851.5Z M1471.0,799.0 L1482.0,799.0 L1473.5,839.0 L1462.5,839.0Z M1471.0,799.0 L1498.0,799.0 L1496.0,808.3 L1469.0,808.3Z M1490.3,807.0 L1495.8,807.0 L1489.0,839.0 L1483.5,839.0Z M1498.0,799.0 L1504.0,799.0 L1493.4,849.0 L1487.4,849.0Z M1497.5,806.0 L1517.5,806.0 L1516.2,812.0 L1496.2,812.0Z M1483.4,844.0 L1509.4,844.0 L1507.9,851.0 L1481.9,851.0Z M1540.3,835.0 L1578.3,835.0 L1577.4,839.5 L1539.4,839.5Z M1558.0,827.0 L1564.0,827.0 L1559.4,849.0 L1553.4,849.0Z M1532.8,847.0 L1576.8,847.0 L1575.7,852.0 L1531.7,852.0Z"/><path d="M1345.9,851.0 L1363.8,833.0" fill="none" stroke-width="8" stroke-linejoin="miter" stroke-linecap="butt"/><path d="M1384.5,820.0 L1387.8,828.0" fill="none" stroke-width="4" stroke-linejoin="miter" stroke-linecap="butt"/><path d="M1462.7,852.0 L1471.7,838.0" fill="none" stroke-width="7" stroke-linejoin="miter" stroke-linecap="butt"/><path d="M1482.7,838.0 L1488.9,851.0" fill="none" stroke-width="6" stroke-linejoin="miter" stroke-linecap="butt"/><path d="M1514.2,812.0 L1497.5,839.0" fill="none" stroke-width="5" stroke-linejoin="miter" stroke-linecap="butt"/><path d="M1540.8,800.0 L1530.8,814.0 L1540.8,814.0 L1527.8,828.0 L1540.3,826.0" fill="none" stroke-width="5" stroke-linejoin="miter" stroke-linecap="butt"/><path d="M1519.2,850.0 L1537.6,843.0" fill="none" stroke-width="5" stroke-linejoin="miter" stroke-linecap="butt"/><path d="M1555.7,805.0 L1575.7,805.0 L1560.5,820.0 L1549.0,827.0" fill="none" stroke-width="6" stroke-linejoin="miter" stroke-linecap="butt"/><path d="M1588.8,800.0 L1571.2,817.0 L1583.0,827.0" fill="none" stroke-width="6" stroke-linejoin="miter" stroke-linecap="butt"/></g>
<g font-family="Liberation Sans, sans-serif" font-weight="bold" font-style="italic" font-size="33"><g fill="#6b6b8a" stroke="#6b6b8a" stroke-width="1.4" transform="translate(1.3,1.3)" opacity="0.8"><text x="1365.5" y="886" text-anchor="middle">z</text><text x="1392.5" y="886" text-anchor="middle">z</text><text x="1419.4" y="886" text-anchor="middle">r</text><text x="1442.8" y="886" text-anchor="middle">t</text><text x="1466" y="886" text-anchor="middle">0</text><text x="1497" y="886" text-anchor="middle">1</text><text x="1518" y="886" text-anchor="middle">.</text><text x="1542" y="886" text-anchor="middle">c</text><text x="1569" y="886" text-anchor="middle">n</text></g><g fill="#91adf7" stroke="#91adf7" stroke-width="1.4"><text x="1365.5" y="886" text-anchor="middle">z</text><text x="1392.5" y="886" text-anchor="middle">z</text><text x="1419.4" y="886" text-anchor="middle">r</text><text x="1442.8" y="886" text-anchor="middle">t</text><text x="1466" y="886" text-anchor="middle">0</text><text x="1497" y="886" text-anchor="middle">1</text><text x="1518" y="886" text-anchor="middle">.</text><text x="1542" y="886" text-anchor="middle">c</text><text x="1569" y="886" text-anchor="middle">n</text></g></g>
</svg></body></html>
